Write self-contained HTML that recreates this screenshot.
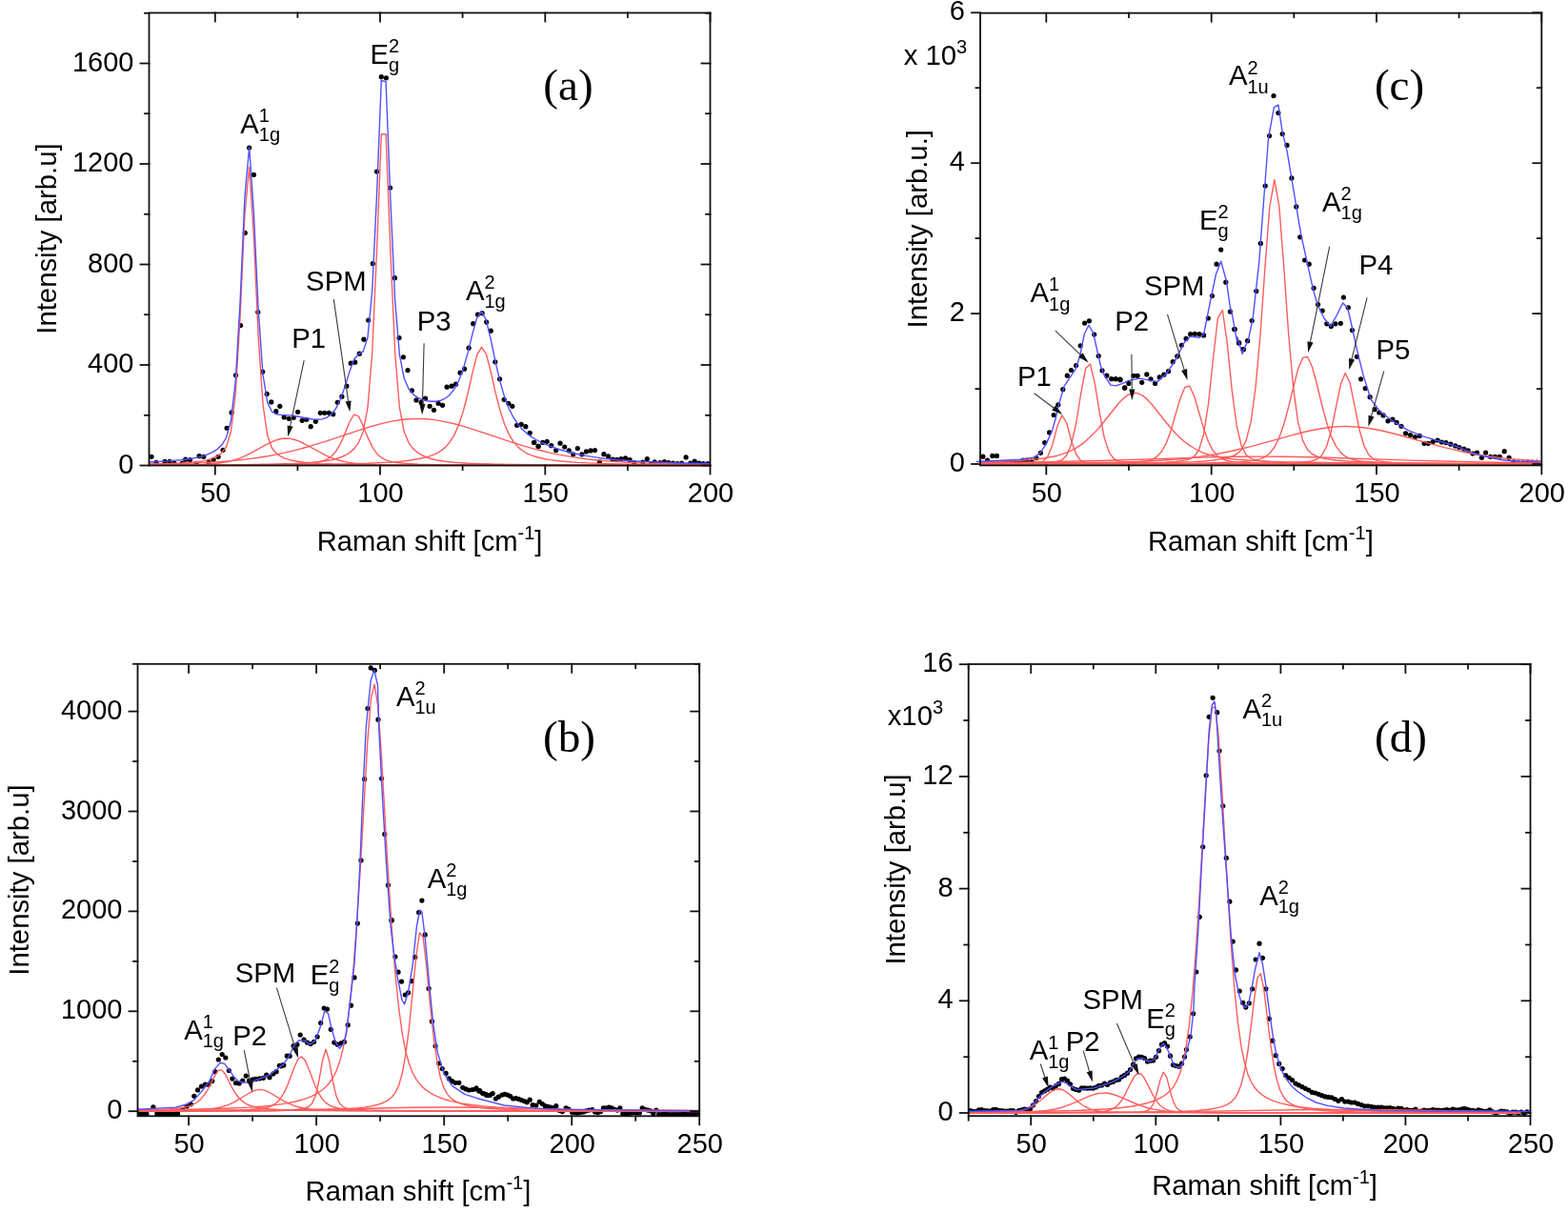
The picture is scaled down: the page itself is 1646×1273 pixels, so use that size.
<!DOCTYPE html>
<html><head><meta charset="utf-8"><title>Raman spectra</title>
<style>html,body{margin:0;padding:0;background:#fff;}svg{display:block;}</style>
</head><body>
<svg width="1646" height="1273" viewBox="0 0 1646 1273">
<rect width="100%" height="100%" fill="#fff"/>
<g fill="#000">
<circle cx="159.0" cy="479.3" r="2.6"/>
<circle cx="164.0" cy="485.3" r="2.6"/>
<circle cx="173.0" cy="484.3" r="2.6"/>
<circle cx="178.0" cy="484.3" r="2.6"/>
<circle cx="183.0" cy="486.3" r="2.6"/>
<circle cx="191.1" cy="486.3" r="2.6"/>
<circle cx="206.1" cy="486.3" r="2.6"/>
<circle cx="219.1" cy="485.3" r="2.6"/>
<circle cx="224.1" cy="482.3" r="2.6"/>
<circle cx="229.1" cy="479.3" r="2.6"/>
<circle cx="234.1" cy="472.3" r="2.6"/>
<circle cx="238.1" cy="449.3" r="2.6"/>
<circle cx="243.1" cy="432.9" r="2.6"/>
<circle cx="247.5" cy="393.8" r="2.6"/>
<circle cx="252.5" cy="341.5" r="2.6"/>
<circle cx="257.2" cy="244.4" r="2.6"/>
<circle cx="270.8" cy="327.5" r="2.6"/>
<circle cx="275.6" cy="390.2" r="2.6"/>
<circle cx="280.2" cy="413.4" r="2.6"/>
<circle cx="284.8" cy="421.9" r="2.6"/>
<circle cx="289.8" cy="431.7" r="2.6"/>
<circle cx="293.8" cy="426.3" r="2.6"/>
<circle cx="298.2" cy="437.9" r="2.6"/>
<circle cx="303.2" cy="439.3" r="2.6"/>
<circle cx="308.2" cy="438.3" r="2.6"/>
<circle cx="312.6" cy="432.3" r="2.6"/>
<circle cx="317.2" cy="441.3" r="2.6"/>
<circle cx="321.8" cy="440.3" r="2.6"/>
<circle cx="326.2" cy="447.7" r="2.6"/>
<circle cx="331.3" cy="442.3" r="2.6"/>
<circle cx="336.3" cy="433.3" r="2.6"/>
<circle cx="340.7" cy="433.3" r="2.6"/>
<circle cx="345.3" cy="433.3" r="2.6"/>
<circle cx="349.7" cy="434.7" r="2.6"/>
<circle cx="354.3" cy="422.3" r="2.6"/>
<circle cx="358.9" cy="416.2" r="2.6"/>
<circle cx="363.9" cy="405.2" r="2.6"/>
<circle cx="368.3" cy="381.2" r="2.6"/>
<circle cx="372.7" cy="380.2" r="2.6"/>
<circle cx="377.3" cy="371.2" r="2.6"/>
<circle cx="381.9" cy="356.2" r="2.6"/>
<circle cx="386.7" cy="336.1" r="2.6"/>
<circle cx="391.3" cy="276.7" r="2.6"/>
<circle cx="414.4" cy="291.7" r="2.6"/>
<circle cx="419.0" cy="354.6" r="2.6"/>
<circle cx="423.4" cy="374.8" r="2.6"/>
<circle cx="428.0" cy="388.6" r="2.6"/>
<circle cx="432.4" cy="409.8" r="2.6"/>
<circle cx="437.0" cy="419.9" r="2.6"/>
<circle cx="261.6" cy="155.1" r="2.6"/>
<circle cx="266.4" cy="183.4" r="2.6"/>
<circle cx="400.3" cy="80.7" r="2.6"/>
<circle cx="405.4" cy="81.8" r="2.6"/>
<circle cx="395.5" cy="180.1" r="2.6"/>
<circle cx="409.6" cy="197.0" r="2.6"/>
<circle cx="442.1" cy="422.3" r="2.6"/>
<circle cx="446.5" cy="418.2" r="2.6"/>
<circle cx="451.1" cy="426.3" r="2.6"/>
<circle cx="455.5" cy="430.3" r="2.6"/>
<circle cx="460.1" cy="423.3" r="2.6"/>
<circle cx="464.5" cy="425.3" r="2.6"/>
<circle cx="469.1" cy="406.2" r="2.6"/>
<circle cx="474.1" cy="405.2" r="2.6"/>
<circle cx="478.5" cy="403.2" r="2.6"/>
<circle cx="483.1" cy="391.2" r="2.6"/>
<circle cx="487.5" cy="387.2" r="2.6"/>
<circle cx="492.1" cy="365.2" r="2.6"/>
<circle cx="496.7" cy="339.7" r="2.6"/>
<circle cx="501.5" cy="330.1" r="2.6"/>
<circle cx="506.1" cy="328.7" r="2.6"/>
<circle cx="510.6" cy="338.1" r="2.6"/>
<circle cx="515.2" cy="347.2" r="2.6"/>
<circle cx="519.8" cy="379.8" r="2.6"/>
<circle cx="524.6" cy="397.8" r="2.6"/>
<circle cx="529.2" cy="419.3" r="2.6"/>
<circle cx="533.8" cy="423.3" r="2.6"/>
<circle cx="537.8" cy="426.3" r="2.6"/>
<circle cx="542.6" cy="446.3" r="2.6"/>
<circle cx="547.2" cy="445.3" r="2.6"/>
<circle cx="551.8" cy="447.7" r="2.6"/>
<circle cx="556.2" cy="454.3" r="2.6"/>
<circle cx="560.8" cy="464.3" r="2.6"/>
<circle cx="565.2" cy="468.3" r="2.6"/>
<circle cx="633.9" cy="476.7" r="2.6"/>
<circle cx="638.5" cy="478.9" r="2.6"/>
<circle cx="643.0" cy="482.0" r="2.6"/>
<circle cx="647.4" cy="482.3" r="2.6"/>
<circle cx="652.0" cy="481.7" r="2.6"/>
<circle cx="656.6" cy="480.9" r="2.6"/>
<circle cx="661.1" cy="482.7" r="2.6"/>
<circle cx="665.7" cy="485.5" r="2.6"/>
<circle cx="674.8" cy="485.1" r="2.6"/>
<circle cx="679.3" cy="481.7" r="2.6"/>
<circle cx="683.8" cy="486.5" r="2.6"/>
<circle cx="692.8" cy="485.5" r="2.6"/>
<circle cx="697.4" cy="484.5" r="2.6"/>
<circle cx="701.9" cy="485.5" r="2.6"/>
<circle cx="706.5" cy="486.2" r="2.6"/>
<circle cx="711.0" cy="486.5" r="2.6"/>
<circle cx="715.6" cy="486.2" r="2.6"/>
<circle cx="720.1" cy="479.9" r="2.6"/>
<circle cx="724.7" cy="486.2" r="2.6"/>
<circle cx="729.2" cy="484.1" r="2.6"/>
<circle cx="733.8" cy="486.2" r="2.6"/>
<circle cx="738.2" cy="486.5" r="2.6"/>
<circle cx="742.9" cy="486.5" r="2.6"/>
<circle cx="560.5" cy="464.5" r="2.6"/>
<circle cx="565.1" cy="468.3" r="2.6"/>
<circle cx="569.6" cy="464.3" r="2.6"/>
<circle cx="574.2" cy="463.3" r="2.6"/>
<circle cx="578.7" cy="467.7" r="2.6"/>
<circle cx="583.6" cy="472.6" r="2.6"/>
<circle cx="588.0" cy="465.2" r="2.6"/>
<circle cx="592.7" cy="469.0" r="2.6"/>
<circle cx="597.3" cy="472.9" r="2.6"/>
<circle cx="601.7" cy="476.8" r="2.6"/>
<circle cx="606.3" cy="470.5" r="2.6"/>
<circle cx="610.8" cy="476.8" r="2.6"/>
<circle cx="615.4" cy="473.9" r="2.6"/>
<circle cx="620.0" cy="472.9" r="2.6"/>
<circle cx="624.5" cy="472.5" r="2.6"/>
<circle cx="629.4" cy="484.5" r="2.6"/>
<circle cx="194.7" cy="482.2" r="2.6"/>
<circle cx="199.5" cy="482.7" r="2.6"/>
<circle cx="209.1" cy="478.7" r="2.6"/>
<circle cx="213.8" cy="479.3" r="2.6"/>
<circle cx="687.2" cy="484.8" r="2.6"/>
</g>
<g fill="none" stroke="#ff5c5c" stroke-width="1.4" stroke-linejoin="round">
<path d="M156.5,487.5 175.6,487.0 189.9,486.3 204.3,485.0 213.8,483.6 218.6,482.4 223.4,480.9 228.2,478.7 233.0,475.2 237.7,468.6 242.5,452.7 247.3,412.7 252.1,332.3 256.9,225.3 261.7,175.5 266.4,247.8 271.2,353.4 276.0,424.4 280.8,457.6 285.6,470.5 290.3,476.1 295.1,479.2 299.9,481.3 304.7,482.7 309.5,483.8 319.0,485.2 328.6,486.0 338.2,486.6 362.1,487.4 400.3,487.9 462.5,488.2 745.5,488.5"/>
<path d="M156.5,488.2 194.7,487.9 213.8,487.4 228.2,486.3 237.7,484.8 242.5,483.7 247.3,482.3 252.1,480.6 256.9,478.6 261.7,476.3 280.8,465.9 285.6,463.6 290.3,461.7 295.1,460.5 299.9,460.0 304.7,460.4 309.5,461.5 314.2,463.2 319.0,465.5 338.2,475.9 342.9,478.3 347.7,480.3 352.5,482.0 357.3,483.5 362.1,484.6 366.8,485.5 371.6,486.2 381.2,487.1 390.7,487.6 405.1,487.9 448.1,488.2 745.5,488.5"/>
<path d="M156.5,488.4 247.3,488.1 295.1,487.5 309.5,487.0 323.8,486.1 333.4,484.9 338.2,483.9 342.9,482.1 347.7,479.0 352.5,473.9 357.3,465.9 362.1,455.0 366.8,443.0 371.6,435.1 376.4,436.8 381.2,446.9 386.0,458.9 390.7,468.9 395.5,475.9 400.3,480.2 405.1,482.8 409.9,484.3 414.7,485.2 424.2,486.3 438.6,487.1 457.7,487.6 481.6,488.0 562.9,488.3 745.5,488.5"/>
<path d="M156.5,488.2 233.0,487.9 280.8,487.3 309.5,486.4 323.8,485.6 333.4,484.8 342.9,483.5 347.7,482.7 352.5,481.5 357.3,480.0 362.1,478.0 366.8,475.2 371.6,471.1 376.4,464.6 381.2,453.0 386.0,427.7 390.7,370.6 395.5,264.3 400.3,140.7 405.1,140.7 409.9,264.3 414.7,370.6 419.4,427.7 424.2,453.0 429.0,464.6 433.8,471.1 438.6,475.2 443.3,478.0 448.1,480.0 452.9,481.5 457.7,482.7 467.2,484.2 476.8,485.2 491.2,486.2 519.8,487.2 562.9,487.8 629.8,488.1 745.5,488.3"/>
<path d="M156.5,487.0 194.7,486.2 213.8,485.5 228.2,484.7 242.5,483.6 256.9,482.1 271.2,480.3 280.8,478.7 290.3,476.9 299.9,474.9 309.5,472.6 323.8,468.7 342.9,462.8 381.2,450.1 390.7,447.2 400.3,444.6 409.9,442.4 419.4,440.8 429.0,439.8 438.6,439.4 448.1,439.8 457.7,440.9 467.2,442.6 476.8,444.8 486.4,447.4 495.9,450.3 534.2,463.1 548.5,467.6 558.1,470.3 567.7,472.8 577.2,475.1 586.8,477.1 601.1,479.6 615.5,481.7 629.8,483.2 644.2,484.4 658.5,485.3 677.6,486.1 696.8,486.6 745.5,487.3"/>
<path d="M156.5,488.2 309.5,487.7 352.5,487.1 386.0,486.3 409.9,485.1 419.4,484.4 429.0,483.3 438.6,481.8 443.3,480.8 448.1,479.6 452.9,478.1 457.7,476.1 462.5,473.4 467.2,469.6 472.0,464.2 476.8,456.6 481.6,445.8 486.4,431.2 491.2,412.7 495.9,391.6 500.7,372.7 505.5,364.3 510.3,371.3 515.1,389.5 519.8,410.6 524.6,429.5 529.4,444.5 534.2,455.6 539.0,463.6 543.8,469.1 548.5,473.0 553.3,475.8 558.1,477.9 562.9,479.5 572.4,481.7 577.2,482.6 586.8,483.8 605.9,485.4 629.8,486.4 658.5,487.1 696.8,487.6 745.5,487.9"/>
</g>
<path fill="none" stroke="#5050ff" stroke-width="1.4" stroke-linejoin="round" d="M156.5,485.0 175.6,483.9 189.9,482.7 199.5,481.5 204.3,480.6 209.1,479.6 213.8,478.3 218.6,476.6 223.4,474.4 228.2,471.3 233.0,466.8 237.7,459.0 242.5,441.4 247.3,399.5 252.1,316.9 256.9,207.2 261.7,154.5 266.4,223.5 271.2,325.6 276.0,393.0 280.8,422.6 285.6,432.2 290.3,434.8 295.1,435.4 304.7,435.9 309.5,436.5 323.8,439.2 328.6,440.0 333.4,440.3 338.2,439.9 342.9,438.3 347.7,435.0 352.5,428.9 357.3,419.3 362.1,405.9 366.8,390.4 371.6,377.3 376.4,371.6 381.2,368.8 386.0,354.1 390.7,305.7 395.5,205.0 400.3,84.4 405.1,85.7 409.9,209.6 414.7,315.6 419.4,372.2 424.2,397.0 429.0,408.0 433.8,413.9 438.6,417.4 443.3,419.5 448.1,420.8 452.9,421.3 457.7,421.2 462.5,420.3 467.2,418.2 472.0,414.5 476.8,408.6 481.6,399.5 486.4,386.7 491.2,369.9 495.9,350.6 500.7,333.5 505.5,326.9 510.3,335.6 515.1,355.6 519.8,378.5 524.6,399.2 529.4,415.9 534.2,428.7 539.0,438.2 543.8,445.4 548.5,450.8 553.3,455.1 558.1,458.6 562.9,461.5 567.7,464.0 572.4,466.2 577.2,468.2 586.8,471.5 596.3,474.3 605.9,476.5 615.5,478.4 625.0,479.9 634.6,481.2 648.9,482.7 672.8,484.3 706.3,485.7 745.5,486.5"/>
<g stroke="#111" stroke-width="1.8" fill="none" stroke-linecap="square">
<rect x="156.5" y="13.5" width="589.0" height="475.0"/>
<line x1="225.8" y1="488.5" x2="225.8" y2="497.5"/>
<line x1="225.8" y1="13.5" x2="225.8" y2="22.5"/>
<line x1="399.0" y1="488.5" x2="399.0" y2="497.5"/>
<line x1="399.0" y1="13.5" x2="399.0" y2="22.5"/>
<line x1="572.3" y1="488.5" x2="572.3" y2="497.5"/>
<line x1="572.3" y1="13.5" x2="572.3" y2="22.5"/>
<line x1="745.5" y1="488.5" x2="745.5" y2="497.5"/>
<line x1="745.5" y1="13.5" x2="745.5" y2="22.5"/>
<line x1="312.4" y1="488.5" x2="312.4" y2="493.0"/>
<line x1="312.4" y1="13.5" x2="312.4" y2="18.0"/>
<line x1="485.6" y1="488.5" x2="485.6" y2="493.0"/>
<line x1="485.6" y1="13.5" x2="485.6" y2="18.0"/>
<line x1="658.9" y1="488.5" x2="658.9" y2="493.0"/>
<line x1="658.9" y1="13.5" x2="658.9" y2="18.0"/>
<line x1="147.5" y1="488.5" x2="156.5" y2="488.5"/>
<line x1="736.5" y1="488.5" x2="745.5" y2="488.5"/>
<line x1="147.5" y1="383.0" x2="156.5" y2="383.0"/>
<line x1="736.5" y1="383.0" x2="745.5" y2="383.0"/>
<line x1="147.5" y1="277.5" x2="156.5" y2="277.5"/>
<line x1="736.5" y1="277.5" x2="745.5" y2="277.5"/>
<line x1="147.5" y1="172.0" x2="156.5" y2="172.0"/>
<line x1="736.5" y1="172.0" x2="745.5" y2="172.0"/>
<line x1="147.5" y1="66.5" x2="156.5" y2="66.5"/>
<line x1="736.5" y1="66.5" x2="745.5" y2="66.5"/>
<line x1="152.0" y1="435.8" x2="156.5" y2="435.8"/>
<line x1="741.0" y1="435.8" x2="745.5" y2="435.8"/>
<line x1="152.0" y1="330.2" x2="156.5" y2="330.2"/>
<line x1="741.0" y1="330.2" x2="745.5" y2="330.2"/>
<line x1="152.0" y1="224.8" x2="156.5" y2="224.8"/>
<line x1="741.0" y1="224.8" x2="745.5" y2="224.8"/>
<line x1="152.0" y1="119.2" x2="156.5" y2="119.2"/>
<line x1="741.0" y1="119.2" x2="745.5" y2="119.2"/>
<line x1="152.0" y1="13.8" x2="156.5" y2="13.8"/>
<line x1="741.0" y1="13.8" x2="745.5" y2="13.8"/>
</g>
<g font-family='"Liberation Sans", Arial, sans-serif' font-size="29" fill="#000">
<text x="140.4" y="496.5" text-anchor="end">0</text>
<text x="140.4" y="391.0" text-anchor="end">400</text>
<text x="140.4" y="285.5" text-anchor="end">800</text>
<text x="140.4" y="180.0" text-anchor="end">1200</text>
<text x="140.4" y="74.5" text-anchor="end">1600</text>
<text x="226.3" y="526.9" text-anchor="middle">50</text>
<text x="399.5" y="526.9" text-anchor="middle">100</text>
<text x="572.8" y="526.9" text-anchor="middle">150</text>
<text x="746.0" y="526.9" text-anchor="middle">200</text>
</g>
<text transform="translate(58.7,350.7) rotate(-90)" font-family='"Liberation Sans", Arial, sans-serif' font-size="29.3">Intensity [arb.u]</text>
<text x="332.7" y="577.5" font-family='"Liberation Sans", Arial, sans-serif' font-size="29.2">Raman shift [cm<tspan dy="-12" font-size="20">-1</tspan><tspan dy="12">]</tspan></text>
<text x="252.3" y="139.6" font-family='"Liberation Sans", Arial, sans-serif' font-size="29.3">A</text>
<text x="271.8" y="127.8" font-family='"Liberation Sans", Arial, sans-serif' font-size="20">1</text>
<text x="271.8" y="147.9" font-family='"Liberation Sans", Arial, sans-serif' font-size="20">1g</text>
<text x="388.4" y="66.8" font-family='"Liberation Sans", Arial, sans-serif' font-size="29.3">E</text>
<text x="407.9" y="55.0" font-family='"Liberation Sans", Arial, sans-serif' font-size="20">2</text>
<text x="407.9" y="75.1" font-family='"Liberation Sans", Arial, sans-serif' font-size="20">g</text>
<text x="321.1" y="305.2" font-family='"Liberation Sans", Arial, sans-serif' font-size="29.3" text-anchor="start">SPM</text>
<text x="306.2" y="365.3" font-family='"Liberation Sans", Arial, sans-serif' font-size="29.3" text-anchor="start">P1</text>
<text x="437.8" y="347.4" font-family='"Liberation Sans", Arial, sans-serif' font-size="29.3" text-anchor="start">P3</text>
<text x="489.0" y="314.8" font-family='"Liberation Sans", Arial, sans-serif' font-size="29.3">A</text>
<text x="508.5" y="303.0" font-family='"Liberation Sans", Arial, sans-serif' font-size="20">2</text>
<text x="508.5" y="323.1" font-family='"Liberation Sans", Arial, sans-serif' font-size="20">1g</text>
<text x="570.3" y="105.4" font-family='"Liberation Serif", "Times New Roman", serif' font-size="47.1" text-anchor="start">(a)</text>
<line x1="319.2" y1="378.2" x2="304.2" y2="449.0" stroke="#3a3a3a" stroke-width="1.1"/>
<path d="M302.2,458.3 L301.6,446.4 L307.6,447.7 Z" fill="#111"/>
<line x1="350.3" y1="314.1" x2="365.9" y2="422.9" stroke="#3a3a3a" stroke-width="1.1"/>
<path d="M367.3,432.3 L362.6,421.4 L368.7,420.5 Z" fill="#111"/>
<line x1="445.1" y1="360.2" x2="443.4" y2="425.8" stroke="#3a3a3a" stroke-width="1.1"/>
<path d="M443.1,435.3 L440.3,423.7 L446.5,423.9 Z" fill="#111"/>
<g fill="#000">
<circle cx="1031.9" cy="479.2" r="2.6"/>
<circle cx="1036.5" cy="483.0" r="2.6"/>
<circle cx="1041.8" cy="478.4" r="2.6"/>
<circle cx="1046.4" cy="478.4" r="2.6"/>
<circle cx="1051.8" cy="486.1" r="2.6"/>
<circle cx="1056.4" cy="486.1" r="2.6"/>
<circle cx="1061.0" cy="486.1" r="2.6"/>
<circle cx="1065.6" cy="486.1" r="2.6"/>
<circle cx="1070.2" cy="485.3" r="2.6"/>
<circle cx="1074.0" cy="483.0" r="2.6"/>
<circle cx="1077.8" cy="483.0" r="2.6"/>
<circle cx="1082.9" cy="483.8" r="2.6"/>
<circle cx="1087.8" cy="480.7" r="2.6"/>
<circle cx="1092.4" cy="475.3" r="2.6"/>
<circle cx="1096.7" cy="464.6" r="2.6"/>
<circle cx="1101.6" cy="453.9" r="2.6"/>
<circle cx="1106.2" cy="435.5" r="2.6"/>
<circle cx="1110.8" cy="424.8" r="2.6"/>
<circle cx="1115.8" cy="408.7" r="2.6"/>
<circle cx="1120.3" cy="394.2" r="2.6"/>
<circle cx="1124.5" cy="388.5" r="2.6"/>
<circle cx="1129.6" cy="383.5" r="2.6"/>
<circle cx="1134.2" cy="362.8" r="2.6"/>
<circle cx="1138.6" cy="339.1" r="2.6"/>
<circle cx="1143.4" cy="336.8" r="2.6"/>
<circle cx="1148.7" cy="351.0" r="2.6"/>
<circle cx="1153.2" cy="373.5" r="2.6"/>
<circle cx="1157.0" cy="388.8" r="2.6"/>
<circle cx="1161.8" cy="394.2" r="2.6"/>
<circle cx="1166.7" cy="397.7" r="2.6"/>
<circle cx="1171.2" cy="397.7" r="2.6"/>
<circle cx="1175.8" cy="398.0" r="2.6"/>
<circle cx="1180.7" cy="406.9" r="2.6"/>
<circle cx="1176.0" cy="398.7" r="2.6"/>
<circle cx="1180.6" cy="407.1" r="2.6"/>
<circle cx="1184.8" cy="402.4" r="2.6"/>
<circle cx="1189.9" cy="394.3" r="2.6"/>
<circle cx="1194.1" cy="394.3" r="2.6"/>
<circle cx="1198.7" cy="401.3" r="2.6"/>
<circle cx="1203.8" cy="392.9" r="2.6"/>
<circle cx="1208.0" cy="397.8" r="2.6"/>
<circle cx="1212.6" cy="402.4" r="2.6"/>
<circle cx="1217.2" cy="395.9" r="2.6"/>
<circle cx="1221.9" cy="393.2" r="2.6"/>
<circle cx="1226.5" cy="389.7" r="2.6"/>
<circle cx="1231.2" cy="379.7" r="2.6"/>
<circle cx="1235.8" cy="373.9" r="2.6"/>
<circle cx="1240.4" cy="362.3" r="2.6"/>
<circle cx="1245.1" cy="355.4" r="2.6"/>
<circle cx="1249.7" cy="350.7" r="2.6"/>
<circle cx="1254.3" cy="350.3" r="2.6"/>
<circle cx="1259.0" cy="350.7" r="2.6"/>
<circle cx="1263.6" cy="351.9" r="2.6"/>
<circle cx="1268.3" cy="334.0" r="2.6"/>
<circle cx="1272.4" cy="310.6" r="2.6"/>
<circle cx="1277.1" cy="277.2" r="2.6"/>
<circle cx="1281.7" cy="262.1" r="2.6"/>
<circle cx="1286.8" cy="296.2" r="2.6"/>
<circle cx="1291.4" cy="327.1" r="2.6"/>
<circle cx="1295.6" cy="345.6" r="2.6"/>
<circle cx="1300.7" cy="360.0" r="2.6"/>
<circle cx="1304.9" cy="366.5" r="2.6"/>
<circle cx="1296.3" cy="345.6" r="2.6"/>
<circle cx="1300.5" cy="359.7" r="2.6"/>
<circle cx="1305.4" cy="366.8" r="2.6"/>
<circle cx="1309.6" cy="357.7" r="2.6"/>
<circle cx="1314.2" cy="336.5" r="2.6"/>
<circle cx="1318.8" cy="305.6" r="2.6"/>
<circle cx="1323.3" cy="255.4" r="2.6"/>
<circle cx="1328.2" cy="195.1" r="2.6"/>
<circle cx="1332.5" cy="142.6" r="2.6"/>
<circle cx="1337.0" cy="100.5" r="2.6"/>
<circle cx="1341.9" cy="118.5" r="2.6"/>
<circle cx="1346.2" cy="140.6" r="2.6"/>
<circle cx="1351.0" cy="152.4" r="2.6"/>
<circle cx="1355.9" cy="186.9" r="2.6"/>
<circle cx="1360.8" cy="216.9" r="2.6"/>
<circle cx="1364.7" cy="248.8" r="2.6"/>
<circle cx="1369.6" cy="273.0" r="2.6"/>
<circle cx="1374.2" cy="277.2" r="2.6"/>
<circle cx="1379.1" cy="302.3" r="2.6"/>
<circle cx="1383.6" cy="319.6" r="2.6"/>
<circle cx="1388.2" cy="326.1" r="2.6"/>
<circle cx="1392.8" cy="339.8" r="2.6"/>
<circle cx="1397.3" cy="342.4" r="2.6"/>
<circle cx="1401.9" cy="339.8" r="2.6"/>
<circle cx="1410.4" cy="312.1" r="2.6"/>
<circle cx="1415.3" cy="322.8" r="2.6"/>
<circle cx="1419.5" cy="346.6" r="2.6"/>
<circle cx="1424.4" cy="374.3" r="2.6"/>
<circle cx="1428.6" cy="397.8" r="2.6"/>
<circle cx="1433.2" cy="407.6" r="2.6"/>
<circle cx="1438.1" cy="416.7" r="2.6"/>
<circle cx="1443.0" cy="429.7" r="2.6"/>
<circle cx="1447.8" cy="433.0" r="2.6"/>
<circle cx="1452.1" cy="435.9" r="2.6"/>
<circle cx="1457.0" cy="441.8" r="2.6"/>
<circle cx="1461.9" cy="440.2" r="2.6"/>
<circle cx="1466.1" cy="443.4" r="2.6"/>
<circle cx="1471.0" cy="447.3" r="2.6"/>
<circle cx="1475.6" cy="454.8" r="2.6"/>
<circle cx="1480.4" cy="456.5" r="2.6"/>
<circle cx="1485.3" cy="458.7" r="2.6"/>
<circle cx="1490.2" cy="457.4" r="2.6"/>
<circle cx="1495.1" cy="465.3" r="2.6"/>
<circle cx="1499.3" cy="465.3" r="2.6"/>
<circle cx="1504.2" cy="463.6" r="2.6"/>
<circle cx="1509.1" cy="462.0" r="2.6"/>
<circle cx="1513.4" cy="464.0" r="2.6"/>
<circle cx="1517.9" cy="464.6" r="2.6"/>
<circle cx="1522.8" cy="466.2" r="2.6"/>
<circle cx="1527.7" cy="467.9" r="2.6"/>
<circle cx="1531.9" cy="469.5" r="2.6"/>
<circle cx="1536.8" cy="471.1" r="2.6"/>
<circle cx="1541.1" cy="472.8" r="2.6"/>
<circle cx="1546.0" cy="476.0" r="2.6"/>
<circle cx="1550.5" cy="475.0" r="2.6"/>
<circle cx="1555.4" cy="480.3" r="2.6"/>
<circle cx="1559.6" cy="475.0" r="2.6"/>
<circle cx="1564.5" cy="479.3" r="2.6"/>
<circle cx="1569.4" cy="479.3" r="2.6"/>
<circle cx="1574.3" cy="479.3" r="2.6"/>
<circle cx="1579.2" cy="473.7" r="2.6"/>
<circle cx="1584.1" cy="480.3" r="2.6"/>
<circle cx="1589.0" cy="484.8" r="2.6"/>
<circle cx="1593.9" cy="485.8" r="2.6"/>
<circle cx="1598.8" cy="485.8" r="2.6"/>
<circle cx="1603.7" cy="485.1" r="2.6"/>
<circle cx="1608.5" cy="485.1" r="2.6"/>
<circle cx="1613.4" cy="485.1" r="2.6"/>
<circle cx="1407.3" cy="339.3" r="2.6"/>
</g>
<g fill="none" stroke="#ff5c5c" stroke-width="1.4" stroke-linejoin="round">
<path d="M1029.0,486.9 1060.3,486.7 1080.1,486.4 1085.1,486.1 1090.0,485.7 1095.0,484.1 1099.9,478.9 1104.9,466.4 1109.8,447.7 1114.8,435.8 1119.8,444.0 1124.7,462.7 1129.7,477.0 1134.6,483.5 1139.6,485.5 1144.5,486.1 1164.4,486.7 1209.0,486.9 1618.3,487.0"/>
<path d="M1029.0,486.8 1070.2,486.5 1095.0,485.8 1104.9,485.2 1109.8,484.5 1114.8,482.7 1119.8,477.8 1124.7,466.1 1129.7,444.0 1134.6,413.5 1139.6,386.8 1144.5,382.1 1149.5,403.4 1154.5,434.6 1159.4,460.1 1164.4,474.9 1169.3,481.5 1174.3,484.0 1179.2,485.0 1184.2,485.5 1194.1,486.0 1213.9,486.5 1238.7,486.7 1337.9,486.9 1618.3,487.0"/>
<path d="M1029.0,484.8 1050.4,484.2 1070.2,483.3 1085.1,482.1 1095.0,481.0 1104.9,479.3 1109.8,478.2 1114.8,476.7 1119.8,474.9 1124.7,472.7 1129.7,470.1 1134.6,466.9 1139.6,463.1 1144.5,458.6 1149.5,453.6 1154.5,448.0 1174.3,423.3 1179.2,418.2 1184.2,414.4 1189.2,412.4 1194.1,412.6 1199.1,414.9 1204.0,418.9 1209.0,424.2 1223.9,443.0 1228.8,449.0 1233.8,454.5 1238.7,459.4 1243.7,463.7 1248.6,467.4 1253.6,470.5 1258.5,473.1 1263.5,475.3 1268.5,477.0 1273.4,478.4 1283.3,480.4 1288.3,481.1 1298.2,482.2 1318.0,483.6 1342.8,484.6 1372.6,485.3 1412.2,485.8 1461.8,486.2 1618.3,486.7"/>
<path d="M1029.0,486.9 1119.8,486.6 1169.3,486.0 1184.2,485.5 1194.1,485.0 1199.1,484.5 1204.0,483.7 1209.0,482.4 1213.9,479.7 1218.9,474.6 1223.9,466.0 1228.8,452.9 1238.7,418.9 1243.7,406.5 1248.6,405.1 1253.6,415.5 1263.5,449.6 1268.5,463.5 1273.4,473.1 1278.4,478.8 1283.3,481.9 1288.3,483.5 1293.2,484.4 1298.2,484.9 1308.1,485.5 1323.0,486.0 1347.8,486.4 1427.1,486.8 1618.3,487.0"/>
<path d="M1029.0,486.9 1159.4,486.6 1194.1,486.2 1213.9,485.7 1223.9,485.3 1233.8,484.5 1243.7,483.1 1248.6,481.8 1253.6,479.0 1258.5,472.2 1263.5,455.9 1268.5,423.9 1273.4,377.3 1278.4,333.8 1283.3,325.5 1288.3,360.5 1293.2,409.1 1298.2,446.9 1303.2,468.0 1308.1,477.4 1313.1,481.1 1318.0,482.7 1323.0,483.7 1332.9,484.8 1347.8,485.6 1367.6,486.2 1397.3,486.6 1442.0,486.8 1618.3,486.9"/>
<path d="M1029.0,486.8 1124.7,486.6 1184.2,486.3 1223.9,485.7 1253.6,484.6 1263.5,484.0 1273.4,483.0 1283.3,481.6 1288.3,480.5 1293.2,479.0 1298.2,476.5 1303.2,472.0 1308.1,462.4 1313.1,442.9 1318.0,407.0 1323.0,351.2 1327.9,281.2 1332.9,216.4 1337.9,188.6 1342.8,216.4 1347.8,281.2 1352.7,351.2 1357.7,407.0 1362.6,442.9 1367.6,462.4 1372.6,472.0 1377.5,476.5 1382.5,479.0 1387.4,480.5 1392.4,481.6 1402.3,483.0 1417.2,484.3 1442.0,485.4 1476.7,486.1 1531.2,486.5 1618.3,486.8"/>
<path d="M1029.0,486.9 1189.2,486.6 1233.8,486.4 1263.5,486.0 1288.3,485.3 1303.2,484.6 1313.1,483.7 1318.0,482.9 1323.0,481.6 1327.9,479.5 1332.9,475.7 1337.9,469.3 1342.8,459.3 1347.8,445.1 1352.7,426.9 1357.7,406.5 1362.6,387.6 1367.6,375.4 1372.6,374.5 1377.5,385.3 1382.5,403.5 1387.4,424.0 1392.4,442.6 1397.3,457.5 1402.3,468.1 1407.3,474.9 1412.2,479.0 1417.2,481.4 1422.1,482.7 1427.1,483.6 1432.0,484.1 1446.9,485.1 1461.8,485.6 1486.6,486.2 1516.3,486.5 1618.3,486.8"/>
<path d="M1029.0,487.0 1233.8,486.9 1318.0,486.5 1342.8,486.2 1357.7,485.7 1367.6,485.0 1372.6,484.5 1377.5,483.7 1382.5,482.0 1387.4,478.0 1392.4,469.1 1397.3,452.7 1407.3,403.6 1412.2,391.5 1417.2,402.2 1427.1,451.2 1432.0,468.2 1437.0,477.5 1442.0,481.8 1446.9,483.6 1451.9,484.5 1461.8,485.4 1476.7,486.0 1521.3,486.6 1618.3,486.9"/>
<path d="M1029.0,486.3 1119.8,485.8 1174.3,485.1 1194.1,484.5 1213.9,483.5 1228.8,482.5 1243.7,481.2 1258.5,479.4 1268.5,478.0 1278.4,476.3 1293.2,473.3 1313.1,468.6 1357.7,456.3 1367.6,453.8 1377.5,451.5 1387.4,449.7 1397.3,448.3 1407.3,447.6 1412.2,447.5 1417.2,447.6 1427.1,448.2 1437.0,449.5 1446.9,451.3 1456.8,453.5 1466.7,456.0 1501.4,465.7 1516.3,469.6 1536.1,474.2 1551.0,477.0 1565.9,479.3 1580.8,481.1 1600.6,482.8 1618.3,483.9"/>
<path d="M1029.0,485.8 1075.1,485.2 1119.8,484.3 1164.4,483.2 1268.5,479.9 1298.2,479.3 1323.0,479.1 1347.8,479.3 1377.5,479.8 1481.6,483.1 1531.2,484.4 1570.8,485.2 1618.3,485.8"/>
</g>
<path fill="none" stroke="#5050ff" stroke-width="1.4" stroke-linejoin="round" d="M1025.0,484.5 1070.9,482.2 1086.3,479.9 1092.4,474.6 1098.5,465.4 1104.6,451.6 1108.5,437.8 1110.8,427.1 1116.9,405.7 1129.1,387.3 1133.7,373.5 1138.3,350.5 1142.9,341.3 1147.5,349.0 1155.9,385.8 1159.8,394.9 1165.9,404.1 1172.0,404.9 1173.2,404.1 1178.1,402.6 1184.8,399.4 1196.4,397.1 1208.0,399.4 1214.9,400.6 1224.2,392.5 1233.5,378.6 1242.8,360.0 1249.7,353.0 1259.0,354.2 1263.6,350.7 1270.6,315.9 1276.4,288.1 1281.7,274.2 1287.5,295.1 1291.4,322.9 1292.4,324.5 1298.4,357.7 1298.9,353.8 1304.2,371.6 1304.8,368.5 1310.3,357.1 1315.2,334.2 1321.7,275.6 1331.5,145.2 1337.4,112.6 1341.9,110.0 1346.2,138.7 1351.0,158.2 1365.7,246.2 1378.7,304.9 1383.6,321.2 1390.2,334.2 1396.7,342.4 1403.2,331.0 1409.7,317.9 1414.6,322.8 1419.5,344.0 1424.4,366.8 1430.9,392.9 1439.0,419.0 1448.8,432.0 1461.9,441.8 1478.2,451.6 1494.5,458.1 1527.1,467.9 1543.4,474.4 1559.6,479.3 1575.9,482.5 1592.2,484.2 1616.7,484.8"/>
<g stroke="#111" stroke-width="1.8" fill="none" stroke-linecap="square">
<rect x="1029.0" y="13.7" width="589.3" height="474.7"/>
<line x1="1098.3" y1="488.4" x2="1098.3" y2="497.4"/>
<line x1="1098.3" y1="13.7" x2="1098.3" y2="22.7"/>
<line x1="1271.7" y1="488.4" x2="1271.7" y2="497.4"/>
<line x1="1271.7" y1="13.7" x2="1271.7" y2="22.7"/>
<line x1="1445.0" y1="488.4" x2="1445.0" y2="497.4"/>
<line x1="1445.0" y1="13.7" x2="1445.0" y2="22.7"/>
<line x1="1618.3" y1="488.4" x2="1618.3" y2="497.4"/>
<line x1="1618.3" y1="13.7" x2="1618.3" y2="22.7"/>
<line x1="1185.0" y1="488.4" x2="1185.0" y2="492.9"/>
<line x1="1185.0" y1="13.7" x2="1185.0" y2="18.2"/>
<line x1="1358.3" y1="488.4" x2="1358.3" y2="492.9"/>
<line x1="1358.3" y1="13.7" x2="1358.3" y2="18.2"/>
<line x1="1531.6" y1="488.4" x2="1531.6" y2="492.9"/>
<line x1="1531.6" y1="13.7" x2="1531.6" y2="18.2"/>
<line x1="1020.0" y1="487.0" x2="1029.0" y2="487.0"/>
<line x1="1609.3" y1="487.0" x2="1618.3" y2="487.0"/>
<line x1="1020.0" y1="329.1" x2="1029.0" y2="329.1"/>
<line x1="1609.3" y1="329.1" x2="1618.3" y2="329.1"/>
<line x1="1020.0" y1="171.2" x2="1029.0" y2="171.2"/>
<line x1="1609.3" y1="171.2" x2="1618.3" y2="171.2"/>
<line x1="1020.0" y1="13.3" x2="1029.0" y2="13.3"/>
<line x1="1609.3" y1="13.3" x2="1618.3" y2="13.3"/>
<line x1="1024.5" y1="408.1" x2="1029.0" y2="408.1"/>
<line x1="1613.8" y1="408.1" x2="1618.3" y2="408.1"/>
<line x1="1024.5" y1="250.1" x2="1029.0" y2="250.1"/>
<line x1="1613.8" y1="250.1" x2="1618.3" y2="250.1"/>
<line x1="1024.5" y1="92.2" x2="1029.0" y2="92.2"/>
<line x1="1613.8" y1="92.2" x2="1618.3" y2="92.2"/>
</g>
<g font-family='"Liberation Sans", Arial, sans-serif' font-size="29" fill="#000">
<text x="1012.9" y="495.0" text-anchor="end">0</text>
<text x="1012.9" y="337.1" text-anchor="end">2</text>
<text x="1012.9" y="179.2" text-anchor="end">4</text>
<text x="1012.9" y="21.3" text-anchor="end">6</text>
<text x="1098.8" y="526.8" text-anchor="middle">50</text>
<text x="1272.2" y="526.8" text-anchor="middle">100</text>
<text x="1445.5" y="526.8" text-anchor="middle">150</text>
<text x="1618.8" y="526.8" text-anchor="middle">200</text>
</g>
<text transform="translate(973.4,344.5) rotate(-90)" font-family='"Liberation Sans", Arial, sans-serif' font-size="29.3">Intensity [arb.u.]</text>
<text x="948.7" y="68.0" font-family='"Liberation Sans", Arial, sans-serif' font-size="29.3" text-anchor="start">x 10<tspan dy="-12.1" font-size="20">3</tspan></text>
<text x="1205.0" y="577.7" font-family='"Liberation Sans", Arial, sans-serif' font-size="29.2">Raman shift [cm<tspan dy="-12" font-size="20">-1</tspan><tspan dy="12">]</tspan></text>
<text x="1290.0" y="89.4" font-family='"Liberation Sans", Arial, sans-serif' font-size="29.3">A</text>
<text x="1309.5" y="77.6" font-family='"Liberation Sans", Arial, sans-serif' font-size="20">2</text>
<text x="1309.5" y="97.7" font-family='"Liberation Sans", Arial, sans-serif' font-size="20">1u</text>
<text x="1442.9" y="105.4" font-family='"Liberation Serif", "Times New Roman", serif' font-size="47.1" text-anchor="start">(c)</text>
<text x="1258.9" y="240.6" font-family='"Liberation Sans", Arial, sans-serif' font-size="29.3">E</text>
<text x="1278.4" y="228.8" font-family='"Liberation Sans", Arial, sans-serif' font-size="20">2</text>
<text x="1278.4" y="248.9" font-family='"Liberation Sans", Arial, sans-serif' font-size="20">g</text>
<text x="1388.1" y="221.5" font-family='"Liberation Sans", Arial, sans-serif' font-size="29.3">A</text>
<text x="1407.6" y="209.7" font-family='"Liberation Sans", Arial, sans-serif' font-size="20">2</text>
<text x="1407.6" y="229.8" font-family='"Liberation Sans", Arial, sans-serif' font-size="20">1g</text>
<text x="1081.6" y="317.2" font-family='"Liberation Sans", Arial, sans-serif' font-size="29.3">A</text>
<text x="1101.1" y="305.4" font-family='"Liberation Sans", Arial, sans-serif' font-size="20">1</text>
<text x="1101.1" y="325.5" font-family='"Liberation Sans", Arial, sans-serif' font-size="20">1g</text>
<text x="1426.4" y="288.1" font-family='"Liberation Sans", Arial, sans-serif' font-size="29.3" text-anchor="start">P4</text>
<text x="1444.4" y="377.0" font-family='"Liberation Sans", Arial, sans-serif' font-size="29.3" text-anchor="start">P5</text>
<text x="1200.9" y="309.5" font-family='"Liberation Sans", Arial, sans-serif' font-size="29.3" text-anchor="start">SPM</text>
<text x="1170.3" y="347.1" font-family='"Liberation Sans", Arial, sans-serif' font-size="29.3" text-anchor="start">P2</text>
<text x="1068.0" y="404.8" font-family='"Liberation Sans", Arial, sans-serif' font-size="29.3" text-anchor="start">P1</text>
<line x1="1085.6" y1="412.7" x2="1107.7" y2="429.3" stroke="#3a3a3a" stroke-width="1.1"/>
<path d="M1115.3,435.0 L1104.2,430.6 L1108.0,425.6 Z" fill="#111"/>
<line x1="1107.9" y1="347.1" x2="1135.8" y2="373.9" stroke="#3a3a3a" stroke-width="1.1"/>
<path d="M1142.6,380.5 L1132.2,374.8 L1136.5,370.3 Z" fill="#111"/>
<line x1="1187.9" y1="371.8" x2="1188.3" y2="410.6" stroke="#3a3a3a" stroke-width="1.1"/>
<path d="M1188.4,420.1 L1185.2,408.6 L1191.4,408.6 Z" fill="#111"/>
<line x1="1225.5" y1="329.8" x2="1243.7" y2="389.9" stroke="#3a3a3a" stroke-width="1.1"/>
<path d="M1246.5,399.0 L1240.2,388.9 L1246.1,387.1 Z" fill="#111"/>
<line x1="1395.7" y1="258.6" x2="1375.1" y2="360.8" stroke="#3a3a3a" stroke-width="1.1"/>
<path d="M1373.2,370.1 L1372.4,358.2 L1378.5,359.4 Z" fill="#111"/>
<line x1="1435.1" y1="312.4" x2="1418.5" y2="378.8" stroke="#3a3a3a" stroke-width="1.1"/>
<path d="M1416.2,388.0 L1416.0,376.1 L1422.0,377.6 Z" fill="#111"/>
<line x1="1452.7" y1="389.6" x2="1439.0" y2="438.6" stroke="#3a3a3a" stroke-width="1.1"/>
<path d="M1436.4,447.7 L1436.5,435.8 L1442.5,437.5 Z" fill="#111"/>
<g fill="#000">
<circle cx="146.6" cy="1168.7" r="2.6"/>
<circle cx="150.2" cy="1168.7" r="2.6"/>
<circle cx="153.9" cy="1168.9" r="2.6"/>
<circle cx="160.9" cy="1161.8" r="2.6"/>
<circle cx="164.9" cy="1168.7" r="2.6"/>
<circle cx="168.5" cy="1168.9" r="2.6"/>
<circle cx="172.1" cy="1168.7" r="2.6"/>
<circle cx="175.7" cy="1168.8" r="2.6"/>
<circle cx="179.4" cy="1168.7" r="2.6"/>
<circle cx="183.0" cy="1168.9" r="2.6"/>
<circle cx="186.6" cy="1168.4" r="2.6"/>
<circle cx="191.7" cy="1164.3" r="2.6"/>
<circle cx="196.1" cy="1161.0" r="2.6"/>
<circle cx="200.3" cy="1158.8" r="2.6"/>
<circle cx="203.8" cy="1150.3" r="2.6"/>
<circle cx="207.6" cy="1143.9" r="2.6"/>
<circle cx="211.5" cy="1140.1" r="2.6"/>
<circle cx="215.3" cy="1138.1" r="2.6"/>
<circle cx="219.0" cy="1138.2" r="2.6"/>
<circle cx="222.7" cy="1134.6" r="2.6"/>
<circle cx="225.8" cy="1124.7" r="2.6"/>
<circle cx="229.3" cy="1112.0" r="2.6"/>
<circle cx="233.2" cy="1106.5" r="2.6"/>
<circle cx="236.8" cy="1110.0" r="2.6"/>
<circle cx="240.3" cy="1123.6" r="2.6"/>
<circle cx="243.9" cy="1132.1" r="2.6"/>
<circle cx="247.5" cy="1136.5" r="2.6"/>
<circle cx="251.1" cy="1137.0" r="2.6"/>
<circle cx="254.7" cy="1134.0" r="2.6"/>
<circle cx="258.2" cy="1129.1" r="2.6"/>
<circle cx="261.5" cy="1134.0" r="2.6"/>
<circle cx="265.4" cy="1132.9" r="2.6"/>
<circle cx="268.7" cy="1132.4" r="2.6"/>
<circle cx="272.5" cy="1131.8" r="2.6"/>
<circle cx="276.4" cy="1131.3" r="2.6"/>
<circle cx="279.7" cy="1128.0" r="2.6"/>
<circle cx="283.0" cy="1130.7" r="2.6"/>
<circle cx="286.8" cy="1126.9" r="2.6"/>
<circle cx="290.1" cy="1124.7" r="2.6"/>
<circle cx="293.4" cy="1118.3" r="2.6"/>
<circle cx="297.2" cy="1117.5" r="2.6"/>
<circle cx="295.0" cy="1118.8" r="2.6"/>
<circle cx="297.8" cy="1118.1" r="2.6"/>
<circle cx="301.3" cy="1108.2" r="2.6"/>
<circle cx="304.1" cy="1108.2" r="2.6"/>
<circle cx="308.1" cy="1097.6" r="2.6"/>
<circle cx="311.9" cy="1096.2" r="2.6"/>
<circle cx="315.2" cy="1086.0" r="2.6"/>
<circle cx="319.0" cy="1091.2" r="2.6"/>
<circle cx="322.5" cy="1094.1" r="2.6"/>
<circle cx="326.1" cy="1095.5" r="2.6"/>
<circle cx="329.6" cy="1093.4" r="2.6"/>
<circle cx="333.1" cy="1088.0" r="2.6"/>
<circle cx="336.7" cy="1073.6" r="2.6"/>
<circle cx="340.2" cy="1058.0" r="2.6"/>
<circle cx="343.5" cy="1059.1" r="2.6"/>
<circle cx="347.3" cy="1080.3" r="2.6"/>
<circle cx="350.8" cy="1094.1" r="2.6"/>
<circle cx="354.4" cy="1096.2" r="2.6"/>
<circle cx="357.9" cy="1094.8" r="2.6"/>
<circle cx="361.4" cy="1093.4" r="2.6"/>
<circle cx="365.2" cy="1075.7" r="2.6"/>
<circle cx="368.5" cy="1055.2" r="2.6"/>
<circle cx="372.0" cy="1025.9" r="2.6"/>
<circle cx="389.2" cy="700.9" r="2.6"/>
<circle cx="393.3" cy="703.4" r="2.6"/>
<circle cx="386.0" cy="743.5" r="2.6"/>
<circle cx="397.0" cy="755.2" r="2.6"/>
<circle cx="382.6" cy="817.7" r="2.6"/>
<circle cx="400.6" cy="817.0" r="2.6"/>
<circle cx="403.8" cy="875.4" r="2.6"/>
<circle cx="379.0" cy="902.9" r="2.6"/>
<circle cx="407.4" cy="928.9" r="2.6"/>
<circle cx="375.3" cy="969.1" r="2.6"/>
<circle cx="411.1" cy="965.7" r="2.6"/>
<circle cx="411.0" cy="965.9" r="2.6"/>
<circle cx="414.9" cy="1004.0" r="2.6"/>
<circle cx="418.0" cy="1020.2" r="2.6"/>
<circle cx="421.5" cy="1030.1" r="2.6"/>
<circle cx="425.3" cy="1044.0" r="2.6"/>
<circle cx="428.6" cy="1041.8" r="2.6"/>
<circle cx="432.3" cy="1029.7" r="2.6"/>
<circle cx="435.8" cy="1004.4" r="2.6"/>
<circle cx="439.6" cy="957.6" r="2.6"/>
<circle cx="442.9" cy="945.1" r="2.6"/>
<circle cx="446.2" cy="980.9" r="2.6"/>
<circle cx="450.1" cy="1037.4" r="2.6"/>
<circle cx="453.4" cy="1071.9" r="2.6"/>
<circle cx="457.1" cy="1097.8" r="2.6"/>
<circle cx="460.9" cy="1116.0" r="2.6"/>
<circle cx="464.2" cy="1121.5" r="2.6"/>
<circle cx="468.1" cy="1126.4" r="2.6"/>
<circle cx="471.4" cy="1131.9" r="2.6"/>
<circle cx="474.7" cy="1134.7" r="2.6"/>
<circle cx="478.0" cy="1136.3" r="2.6"/>
<circle cx="481.8" cy="1136.3" r="2.6"/>
<circle cx="485.7" cy="1141.3" r="2.6"/>
<circle cx="489.0" cy="1142.9" r="2.6"/>
<circle cx="492.3" cy="1144.0" r="2.6"/>
<circle cx="496.0" cy="1143.5" r="2.6"/>
<circle cx="499.6" cy="1142.9" r="2.6"/>
<circle cx="502.9" cy="1145.1" r="2.6"/>
<circle cx="506.6" cy="1147.3" r="2.6"/>
<circle cx="509.9" cy="1148.4" r="2.6"/>
<circle cx="513.6" cy="1149.5" r="2.6"/>
<circle cx="500.0" cy="1141.8" r="2.6"/>
<circle cx="503.6" cy="1144.7" r="2.6"/>
<circle cx="507.3" cy="1147.6" r="2.6"/>
<circle cx="510.9" cy="1149.5" r="2.6"/>
<circle cx="514.6" cy="1149.1" r="2.6"/>
<circle cx="517.2" cy="1147.6" r="2.6"/>
<circle cx="520.4" cy="1153.0" r="2.6"/>
<circle cx="523.3" cy="1151.2" r="2.6"/>
<circle cx="527.0" cy="1149.1" r="2.6"/>
<circle cx="529.9" cy="1148.3" r="2.6"/>
<circle cx="532.8" cy="1149.1" r="2.6"/>
<circle cx="535.7" cy="1150.5" r="2.6"/>
<circle cx="538.6" cy="1153.0" r="2.6"/>
<circle cx="541.6" cy="1152.7" r="2.6"/>
<circle cx="544.5" cy="1153.4" r="2.6"/>
<circle cx="547.4" cy="1154.5" r="2.6"/>
<circle cx="550.3" cy="1155.6" r="2.6"/>
<circle cx="553.2" cy="1156.8" r="2.6"/>
<circle cx="556.1" cy="1154.2" r="2.6"/>
<circle cx="559.1" cy="1159.7" r="2.6"/>
<circle cx="562.7" cy="1160.0" r="2.6"/>
<circle cx="566.3" cy="1156.3" r="2.6"/>
<circle cx="569.3" cy="1158.5" r="2.6"/>
<circle cx="572.2" cy="1160.7" r="2.6"/>
<circle cx="575.1" cy="1161.4" r="2.6"/>
<circle cx="578.0" cy="1162.2" r="2.6"/>
<circle cx="580.9" cy="1162.9" r="2.6"/>
<circle cx="583.8" cy="1160.7" r="2.6"/>
<circle cx="587.5" cy="1165.5" r="2.6"/>
<circle cx="590.4" cy="1166.6" r="2.6"/>
<circle cx="594.1" cy="1162.9" r="2.6"/>
<circle cx="597.0" cy="1164.1" r="2.6"/>
<circle cx="600.6" cy="1167.3" r="2.6"/>
<circle cx="603.5" cy="1167.6" r="2.6"/>
<circle cx="606.4" cy="1168.0" r="2.6"/>
<circle cx="609.4" cy="1167.3" r="2.6"/>
<circle cx="612.3" cy="1167.0" r="2.6"/>
<circle cx="615.2" cy="1165.8" r="2.6"/>
<circle cx="618.1" cy="1165.1" r="2.6"/>
<circle cx="621.8" cy="1164.7" r="2.6"/>
<circle cx="624.7" cy="1167.0" r="2.6"/>
<circle cx="627.6" cy="1167.6" r="2.6"/>
<circle cx="630.5" cy="1166.6" r="2.6"/>
<circle cx="633.4" cy="1162.9" r="2.6"/>
<circle cx="636.3" cy="1162.9" r="2.6"/>
<circle cx="639.3" cy="1162.2" r="2.6"/>
<circle cx="642.2" cy="1162.9" r="2.6"/>
<circle cx="645.1" cy="1164.4" r="2.6"/>
<circle cx="648.0" cy="1165.1" r="2.6"/>
<circle cx="650.9" cy="1162.9" r="2.6"/>
<circle cx="653.8" cy="1168.7" r="2.6"/>
<circle cx="656.8" cy="1168.7" r="2.6"/>
<circle cx="659.7" cy="1168.4" r="2.6"/>
<circle cx="662.6" cy="1168.0" r="2.6"/>
<circle cx="665.5" cy="1167.3" r="2.6"/>
<circle cx="668.4" cy="1168.0" r="2.6"/>
<circle cx="671.3" cy="1168.0" r="2.6"/>
<circle cx="674.2" cy="1162.9" r="2.6"/>
<circle cx="677.2" cy="1164.4" r="2.6"/>
<circle cx="680.1" cy="1165.1" r="2.6"/>
<circle cx="683.0" cy="1165.8" r="2.6"/>
<circle cx="685.9" cy="1168.7" r="2.6"/>
<circle cx="688.8" cy="1165.1" r="2.6"/>
<circle cx="691.7" cy="1169.5" r="2.6"/>
<circle cx="694.7" cy="1169.5" r="2.6"/>
<circle cx="697.6" cy="1168.7" r="2.6"/>
<circle cx="700.5" cy="1169.5" r="2.6"/>
<circle cx="703.4" cy="1169.5" r="2.6"/>
<circle cx="706.3" cy="1169.5" r="2.6"/>
<circle cx="709.2" cy="1169.5" r="2.6"/>
<circle cx="712.2" cy="1169.5" r="2.6"/>
<circle cx="715.1" cy="1169.5" r="2.6"/>
<circle cx="718.0" cy="1168.7" r="2.6"/>
<circle cx="720.9" cy="1169.5" r="2.6"/>
<circle cx="723.8" cy="1169.5" r="2.6"/>
<circle cx="726.7" cy="1169.5" r="2.6"/>
<circle cx="729.7" cy="1169.5" r="2.6"/>
<circle cx="732.6" cy="1169.5" r="2.6"/>
</g>
<g fill="none" stroke="#ff5c5c" stroke-width="1.4" stroke-linejoin="round">
<path d="M144.5,1165.3 167.1,1164.7 178.1,1164.0 185.4,1163.3 192.6,1162.2 196.3,1161.4 199.9,1160.3 203.6,1158.7 207.2,1156.5 210.9,1153.4 214.5,1149.0 218.2,1143.3 225.4,1128.9 229.1,1123.5 232.7,1122.9 236.4,1127.3 243.7,1141.7 247.3,1147.8 251.0,1152.5 254.6,1155.9 258.3,1158.3 261.9,1160.0 265.5,1161.2 272.8,1162.7 283.8,1163.9 294.7,1164.6 312.9,1165.2 367.6,1165.8 477.0,1166.1 734.2,1166.2"/>
<path d="M144.5,1165.8 178.1,1165.5 199.9,1165.1 214.5,1164.4 225.4,1163.2 232.7,1161.7 240.0,1159.3 247.3,1155.8 261.9,1147.0 265.5,1145.2 269.2,1143.9 272.8,1143.4 276.5,1143.9 280.1,1145.1 283.8,1147.0 298.4,1155.8 305.6,1159.2 309.3,1160.6 312.9,1161.7 320.2,1163.2 327.5,1164.1 338.5,1164.8 353.0,1165.3 371.3,1165.6 425.9,1165.9 734.2,1166.2"/>
<path d="M144.5,1166.0 214.5,1165.7 251.0,1165.0 261.9,1164.5 272.8,1163.5 280.1,1162.3 283.8,1161.2 287.4,1159.4 291.1,1156.7 294.7,1152.5 298.4,1146.4 302.0,1138.5 309.3,1119.2 312.9,1111.5 316.6,1109.0 320.2,1112.8 323.9,1121.3 331.2,1140.4 334.8,1147.9 338.5,1153.5 342.1,1157.4 345.7,1159.9 349.4,1161.5 353.0,1162.5 356.7,1163.1 367.6,1164.3 382.2,1165.0 400.4,1165.5 425.9,1165.8 517.1,1166.1 734.2,1166.2"/>
<path d="M144.5,1166.2 243.7,1166.0 287.4,1165.7 298.4,1165.4 309.3,1164.7 316.6,1163.8 320.2,1163.0 323.9,1161.5 327.5,1158.1 331.2,1150.1 334.8,1134.4 338.5,1113.0 342.1,1101.1 345.7,1113.6 349.4,1134.9 353.0,1150.4 356.7,1158.3 360.3,1161.6 364.0,1163.1 367.6,1163.9 374.9,1164.7 385.8,1165.4 400.4,1165.7 422.3,1165.9 502.5,1166.1 734.2,1166.2"/>
<path d="M144.5,1165.0 203.6,1164.2 243.7,1163.0 261.9,1162.1 276.5,1161.0 287.4,1159.9 298.4,1158.4 309.3,1156.2 316.6,1154.3 323.9,1151.8 327.5,1150.3 331.2,1148.5 334.8,1146.3 338.5,1143.7 342.1,1140.5 345.7,1136.5 349.4,1131.3 353.0,1124.1 356.7,1114.1 360.3,1099.7 364.0,1079.3 367.6,1051.0 371.3,1012.9 374.9,964.2 378.6,905.8 385.8,778.8 389.5,732.7 393.1,718.2 396.8,741.2 400.4,792.7 407.7,920.3 411.4,976.6 415.0,1022.8 418.7,1058.5 422.3,1084.8 425.9,1103.6 429.6,1116.8 433.2,1126.0 436.9,1132.7 440.5,1137.6 444.2,1141.4 447.8,1144.4 451.5,1146.8 455.1,1148.9 458.8,1150.7 466.0,1153.5 473.3,1155.6 484.3,1157.9 495.2,1159.5 506.1,1160.7 520.7,1161.9 535.3,1162.7 553.5,1163.4 579.1,1164.1 641.0,1165.0 734.2,1165.6"/>
<path d="M144.5,1166.0 287.4,1165.6 327.5,1165.1 353.0,1164.3 364.0,1163.8 374.9,1162.9 382.2,1162.1 389.5,1160.9 396.8,1159.2 400.4,1158.0 404.1,1156.4 407.7,1154.3 411.4,1151.3 415.0,1146.6 418.7,1138.9 422.3,1126.2 425.9,1106.3 429.6,1077.5 436.9,1003.0 440.5,978.7 444.2,983.9 447.8,1014.6 451.5,1053.4 455.1,1087.8 458.8,1113.6 462.4,1131.0 466.0,1141.8 469.7,1148.4 473.3,1152.4 477.0,1155.1 480.6,1157.0 484.3,1158.4 487.9,1159.5 495.2,1161.2 502.5,1162.3 509.8,1163.0 520.7,1163.8 531.7,1164.4 557.2,1165.1 597.3,1165.6 734.2,1166.0"/>
<path d="M144.5,1165.7 232.7,1165.3 302.0,1164.7 353.0,1164.0 433.2,1162.3 466.0,1162.0 498.9,1162.3 575.4,1163.9 619.2,1164.6 670.2,1165.1 734.2,1165.5"/>
</g>
<path fill="none" stroke="#5050ff" stroke-width="1.4" stroke-linejoin="round" d="M144.5,1163.0 145.5,1164.3 184.0,1162.1 195.0,1159.3 203.8,1154.4 211.5,1145.6 219.2,1135.7 225.8,1121.4 231.3,1115.3 235.7,1116.4 241.2,1123.6 245.6,1130.2 250.0,1134.6 254.4,1135.7 261.0,1136.2 272.0,1132.4 283.0,1128.0 297.1,1117.4 304.1,1107.5 308.4,1097.6 314.0,1091.7 319.7,1091.9 325.4,1096.2 331.0,1091.9 336.7,1076.4 340.9,1060.8 344.5,1063.6 348.0,1079.2 352.2,1093.4 356.5,1100.4 360.7,1094.8 363.6,1084.9 372.0,1011.3 374.6,969.8 377.8,909.0 380.7,836.0 384.3,763.0 389.2,714.3 392.8,703.4 396.5,719.2 397.7,763.0 401.4,836.0 405.7,909.0 409.9,969.8 413.2,998.9 417.6,1027.5 422.0,1049.5 424.6,1053.8 428.6,1040.7 433.0,1014.3 437.4,972.5 440.7,954.9 442.9,957.1 446.2,983.5 450.5,1031.9 454.9,1075.8 459.3,1104.4 465.9,1126.4 474.7,1139.6 487.9,1148.4 501.1,1152.7 529.2,1160.0 558.3,1162.9 587.5,1164.4 734.2,1165.8"/>
<g stroke="#111" stroke-width="1.8" fill="none" stroke-linecap="square">
<rect x="144.5" y="696.8" width="589.7" height="474.5"/>
<line x1="198.1" y1="1171.3" x2="198.1" y2="1180.3"/>
<line x1="198.1" y1="696.8" x2="198.1" y2="705.8"/>
<line x1="332.1" y1="1171.3" x2="332.1" y2="1180.3"/>
<line x1="332.1" y1="696.8" x2="332.1" y2="705.8"/>
<line x1="466.2" y1="1171.3" x2="466.2" y2="1180.3"/>
<line x1="466.2" y1="696.8" x2="466.2" y2="705.8"/>
<line x1="600.2" y1="1171.3" x2="600.2" y2="1180.3"/>
<line x1="600.2" y1="696.8" x2="600.2" y2="705.8"/>
<line x1="734.2" y1="1171.3" x2="734.2" y2="1180.3"/>
<line x1="734.2" y1="696.8" x2="734.2" y2="705.8"/>
<line x1="265.1" y1="1171.3" x2="265.1" y2="1175.8"/>
<line x1="265.1" y1="696.8" x2="265.1" y2="701.3"/>
<line x1="399.1" y1="1171.3" x2="399.1" y2="1175.8"/>
<line x1="399.1" y1="696.8" x2="399.1" y2="701.3"/>
<line x1="533.2" y1="1171.3" x2="533.2" y2="1175.8"/>
<line x1="533.2" y1="696.8" x2="533.2" y2="701.3"/>
<line x1="667.2" y1="1171.3" x2="667.2" y2="1175.8"/>
<line x1="667.2" y1="696.8" x2="667.2" y2="701.3"/>
<line x1="135.5" y1="1166.2" x2="144.5" y2="1166.2"/>
<line x1="725.2" y1="1166.2" x2="734.2" y2="1166.2"/>
<line x1="135.5" y1="1061.3" x2="144.5" y2="1061.3"/>
<line x1="725.2" y1="1061.3" x2="734.2" y2="1061.3"/>
<line x1="135.5" y1="956.4" x2="144.5" y2="956.4"/>
<line x1="725.2" y1="956.4" x2="734.2" y2="956.4"/>
<line x1="135.5" y1="851.5" x2="144.5" y2="851.5"/>
<line x1="725.2" y1="851.5" x2="734.2" y2="851.5"/>
<line x1="135.5" y1="746.6" x2="144.5" y2="746.6"/>
<line x1="725.2" y1="746.6" x2="734.2" y2="746.6"/>
<line x1="140.0" y1="1113.8" x2="144.5" y2="1113.8"/>
<line x1="729.7" y1="1113.8" x2="734.2" y2="1113.8"/>
<line x1="140.0" y1="1008.9" x2="144.5" y2="1008.9"/>
<line x1="729.7" y1="1008.9" x2="734.2" y2="1008.9"/>
<line x1="140.0" y1="904.0" x2="144.5" y2="904.0"/>
<line x1="729.7" y1="904.0" x2="734.2" y2="904.0"/>
<line x1="140.0" y1="799.0" x2="144.5" y2="799.0"/>
<line x1="729.7" y1="799.0" x2="734.2" y2="799.0"/>
<line x1="140.0" y1="696.8" x2="144.5" y2="696.8"/>
<line x1="729.7" y1="696.8" x2="734.2" y2="696.8"/>
</g>
<g font-family='"Liberation Sans", Arial, sans-serif' font-size="29" fill="#000">
<text x="128.4" y="1174.2" text-anchor="end">0</text>
<text x="128.4" y="1069.3" text-anchor="end">1000</text>
<text x="128.4" y="964.4" text-anchor="end">2000</text>
<text x="128.4" y="859.5" text-anchor="end">3000</text>
<text x="128.4" y="754.6" text-anchor="end">4000</text>
<text x="198.6" y="1209.7" text-anchor="middle">50</text>
<text x="332.6" y="1209.7" text-anchor="middle">100</text>
<text x="466.7" y="1209.7" text-anchor="middle">150</text>
<text x="600.7" y="1209.7" text-anchor="middle">200</text>
<text x="734.7" y="1209.7" text-anchor="middle">250</text>
</g>
<text transform="translate(30.2,1023.7) rotate(-90)" font-family='"Liberation Sans", Arial, sans-serif' font-size="29.3">Intensity [arb.u]</text>
<text x="320.6" y="1260.4" font-family='"Liberation Sans", Arial, sans-serif' font-size="29.2">Raman shift [cm<tspan dy="-12" font-size="20">-1</tspan><tspan dy="12">]</tspan></text>
<text x="193.2" y="1091.1" font-family='"Liberation Sans", Arial, sans-serif' font-size="29.3">A</text>
<text x="212.7" y="1079.3" font-family='"Liberation Sans", Arial, sans-serif' font-size="20">1</text>
<text x="212.7" y="1099.4" font-family='"Liberation Sans", Arial, sans-serif' font-size="20">1g</text>
<text x="244.3" y="1097.2" font-family='"Liberation Sans", Arial, sans-serif' font-size="29.3" text-anchor="start">P2</text>
<text x="246.7" y="1031.1" font-family='"Liberation Sans", Arial, sans-serif' font-size="29.3" text-anchor="start">SPM</text>
<text x="325.8" y="1032.5" font-family='"Liberation Sans", Arial, sans-serif' font-size="29.3">E</text>
<text x="345.3" y="1020.7" font-family='"Liberation Sans", Arial, sans-serif' font-size="20">2</text>
<text x="345.3" y="1040.8" font-family='"Liberation Sans", Arial, sans-serif' font-size="20">g</text>
<text x="416.0" y="740.8" font-family='"Liberation Sans", Arial, sans-serif' font-size="29.3">A</text>
<text x="435.5" y="729.0" font-family='"Liberation Sans", Arial, sans-serif' font-size="20">2</text>
<text x="435.5" y="749.1" font-family='"Liberation Sans", Arial, sans-serif' font-size="20">1u</text>
<text x="448.7" y="931.9" font-family='"Liberation Sans", Arial, sans-serif' font-size="29.3">A</text>
<text x="468.2" y="920.1" font-family='"Liberation Sans", Arial, sans-serif' font-size="20">2</text>
<text x="468.2" y="940.2" font-family='"Liberation Sans", Arial, sans-serif' font-size="20">1g</text>
<text x="570.1" y="788.9" font-family='"Liberation Serif", "Times New Roman", serif' font-size="47.1" text-anchor="start">(b)</text>
<line x1="256.3" y1="1102.2" x2="263.0" y2="1136.6" stroke="#3a3a3a" stroke-width="1.1"/>
<path d="M264.8,1145.9 L259.6,1135.2 L265.6,1134.0 Z" fill="#111"/>
<line x1="290.4" y1="1036.6" x2="310.3" y2="1101.3" stroke="#3a3a3a" stroke-width="1.1"/>
<path d="M313.1,1110.4 L306.8,1100.3 L312.7,1098.5 Z" fill="#111"/>
<g fill="#000">
<circle cx="1018.5" cy="1165.5" r="2.6"/>
<circle cx="1021.5" cy="1166.3" r="2.6"/>
<circle cx="1024.5" cy="1166.5" r="2.6"/>
<circle cx="1027.5" cy="1164.8" r="2.6"/>
<circle cx="1030.5" cy="1164.6" r="2.6"/>
<circle cx="1033.5" cy="1165.7" r="2.6"/>
<circle cx="1036.5" cy="1165.9" r="2.6"/>
<circle cx="1039.5" cy="1166.1" r="2.6"/>
<circle cx="1042.5" cy="1164.5" r="2.6"/>
<circle cx="1045.5" cy="1164.3" r="2.6"/>
<circle cx="1048.5" cy="1165.5" r="2.6"/>
<circle cx="1051.5" cy="1165.5" r="2.6"/>
<circle cx="1054.5" cy="1166.2" r="2.6"/>
<circle cx="1057.5" cy="1166.0" r="2.6"/>
<circle cx="1060.5" cy="1165.5" r="2.6"/>
<circle cx="1063.5" cy="1165.5" r="2.6"/>
<circle cx="1066.5" cy="1167.3" r="2.6"/>
<circle cx="1069.5" cy="1165.7" r="2.6"/>
<circle cx="1072.5" cy="1164.9" r="2.6"/>
<circle cx="1075.5" cy="1164.0" r="2.6"/>
<circle cx="1078.5" cy="1164.4" r="2.6"/>
<circle cx="1081.5" cy="1163.8" r="2.6"/>
<circle cx="1084.5" cy="1159.8" r="2.6"/>
<circle cx="1087.5" cy="1155.6" r="2.6"/>
<circle cx="1090.5" cy="1150.5" r="2.6"/>
<circle cx="1093.5" cy="1146.5" r="2.6"/>
<circle cx="1096.5" cy="1144.9" r="2.6"/>
<circle cx="1099.5" cy="1143.2" r="2.6"/>
<circle cx="1102.5" cy="1141.2" r="2.6"/>
<circle cx="1105.5" cy="1142.2" r="2.6"/>
<circle cx="1108.5" cy="1139.6" r="2.6"/>
<circle cx="1111.5" cy="1137.4" r="2.6"/>
<circle cx="1114.5" cy="1132.7" r="2.6"/>
<circle cx="1117.5" cy="1132.0" r="2.6"/>
<circle cx="1120.5" cy="1134.2" r="2.6"/>
<circle cx="1123.5" cy="1137.8" r="2.6"/>
<circle cx="1126.5" cy="1142.3" r="2.6"/>
<circle cx="1129.5" cy="1143.5" r="2.6"/>
<circle cx="1132.5" cy="1144.2" r="2.6"/>
<circle cx="1135.5" cy="1141.8" r="2.6"/>
<circle cx="1138.5" cy="1141.9" r="2.6"/>
<circle cx="1141.5" cy="1142.1" r="2.6"/>
<circle cx="1144.5" cy="1141.9" r="2.6"/>
<circle cx="1147.5" cy="1142.1" r="2.6"/>
<circle cx="1150.5" cy="1141.0" r="2.6"/>
<circle cx="1153.5" cy="1139.3" r="2.6"/>
<circle cx="1156.5" cy="1139.0" r="2.6"/>
<circle cx="1159.5" cy="1137.2" r="2.6"/>
<circle cx="1162.5" cy="1138.3" r="2.6"/>
<circle cx="1165.5" cy="1136.0" r="2.6"/>
<circle cx="1168.5" cy="1135.2" r="2.6"/>
<circle cx="1171.5" cy="1133.5" r="2.6"/>
<circle cx="1174.5" cy="1133.0" r="2.6"/>
<circle cx="1177.5" cy="1130.1" r="2.6"/>
<circle cx="1180.5" cy="1128.4" r="2.6"/>
<circle cx="1183.5" cy="1126.2" r="2.6"/>
<circle cx="1186.5" cy="1122.5" r="2.6"/>
<circle cx="1189.5" cy="1117.1" r="2.6"/>
<circle cx="1192.5" cy="1110.8" r="2.6"/>
<circle cx="1195.5" cy="1109.2" r="2.6"/>
<circle cx="1198.5" cy="1109.4" r="2.6"/>
<circle cx="1201.5" cy="1110.5" r="2.6"/>
<circle cx="1204.5" cy="1114.1" r="2.6"/>
<circle cx="1207.5" cy="1113.2" r="2.6"/>
<circle cx="1210.5" cy="1113.0" r="2.6"/>
<circle cx="1213.5" cy="1109.3" r="2.6"/>
<circle cx="1216.5" cy="1102.7" r="2.6"/>
<circle cx="1219.5" cy="1096.2" r="2.6"/>
<circle cx="1222.5" cy="1094.5" r="2.6"/>
<circle cx="1225.5" cy="1098.1" r="2.6"/>
<circle cx="1228.5" cy="1108.2" r="2.6"/>
<circle cx="1231.5" cy="1117.6" r="2.6"/>
<circle cx="1234.5" cy="1118.5" r="2.6"/>
<circle cx="1237.5" cy="1119.2" r="2.6"/>
<circle cx="1240.5" cy="1116.2" r="2.6"/>
<circle cx="1243.5" cy="1109.0" r="2.6"/>
<circle cx="1245.4" cy="1101.5" r="2.6"/>
<circle cx="1249.2" cy="1088.1" r="2.6"/>
<circle cx="1252.7" cy="1063.8" r="2.6"/>
<circle cx="1255.8" cy="1020.0" r="2.6"/>
<circle cx="1259.2" cy="962.3" r="2.6"/>
<circle cx="1262.7" cy="888.8" r="2.6"/>
<circle cx="1266.2" cy="813.8" r="2.6"/>
<circle cx="1269.2" cy="752.3" r="2.6"/>
<circle cx="1273.1" cy="732.3" r="2.6"/>
<circle cx="1277.7" cy="747.7" r="2.6"/>
<circle cx="1280.0" cy="788.1" r="2.6"/>
<circle cx="1283.8" cy="845.8" r="2.6"/>
<circle cx="1287.3" cy="900.4" r="2.6"/>
<circle cx="1290.8" cy="946.2" r="2.6"/>
<circle cx="1294.2" cy="988.1" r="2.6"/>
<circle cx="1297.4" cy="1017.9" r="2.6"/>
<circle cx="1301.2" cy="1040.0" r="2.6"/>
<circle cx="1304.7" cy="1052.4" r="2.6"/>
<circle cx="1307.8" cy="1057.1" r="2.6"/>
<circle cx="1311.3" cy="1052.8" r="2.6"/>
<circle cx="1314.7" cy="1037.8" r="2.6"/>
<circle cx="1318.2" cy="1007.0" r="2.6"/>
<circle cx="1322.0" cy="990.2" r="2.6"/>
<circle cx="1325.4" cy="1005.3" r="2.6"/>
<circle cx="1328.9" cy="1037.8" r="2.6"/>
<circle cx="1332.3" cy="1069.2" r="2.6"/>
<circle cx="1335.8" cy="1092.2" r="2.6"/>
<circle cx="1339.2" cy="1107.7" r="2.6"/>
<circle cx="1342.7" cy="1116.4" r="2.6"/>
<circle cx="1346.2" cy="1121.6" r="2.6"/>
<circle cx="1349.6" cy="1128.5" r="2.6"/>
<circle cx="1353.1" cy="1131.1" r="2.6"/>
<circle cx="1356.5" cy="1133.6" r="2.6"/>
<circle cx="1360.0" cy="1137.1" r="2.6"/>
<circle cx="1363.4" cy="1138.8" r="2.6"/>
<circle cx="1366.9" cy="1140.6" r="2.6"/>
<circle cx="1370.3" cy="1142.3" r="2.6"/>
<circle cx="1373.8" cy="1144.0" r="2.6"/>
<circle cx="1377.3" cy="1146.3" r="2.6"/>
<circle cx="1380.7" cy="1147.0" r="2.6"/>
<circle cx="1384.2" cy="1148.3" r="2.6"/>
<circle cx="1387.6" cy="1149.7" r="2.6"/>
<circle cx="1391.1" cy="1150.9" r="2.6"/>
<circle cx="1394.5" cy="1151.4" r="2.6"/>
<circle cx="1398.0" cy="1151.8" r="2.6"/>
<circle cx="1401.4" cy="1153.5" r="2.6"/>
<circle cx="1404.9" cy="1155.3" r="2.6"/>
<circle cx="1408.4" cy="1153.5" r="2.6"/>
<circle cx="1411.8" cy="1156.1" r="2.6"/>
<circle cx="1415.3" cy="1156.1" r="2.6"/>
<circle cx="1418.7" cy="1157.0" r="2.6"/>
<circle cx="1422.2" cy="1157.0" r="2.6"/>
<circle cx="1425.6" cy="1158.4" r="2.6"/>
<circle cx="1429.1" cy="1159.6" r="2.6"/>
<circle cx="1432.5" cy="1160.8" r="2.6"/>
<circle cx="1436.0" cy="1160.8" r="2.6"/>
<circle cx="1439.5" cy="1161.3" r="2.6"/>
<circle cx="1442.9" cy="1162.2" r="2.6"/>
<circle cx="1446.4" cy="1162.2" r="2.6"/>
<circle cx="1450.0" cy="1162.2" r="2.6"/>
<circle cx="1453.0" cy="1162.8" r="2.6"/>
<circle cx="1456.0" cy="1162.9" r="2.6"/>
<circle cx="1459.0" cy="1162.7" r="2.6"/>
<circle cx="1462.0" cy="1163.3" r="2.6"/>
<circle cx="1465.0" cy="1164.2" r="2.6"/>
<circle cx="1468.0" cy="1163.2" r="2.6"/>
<circle cx="1471.0" cy="1163.3" r="2.6"/>
<circle cx="1474.0" cy="1165.2" r="2.6"/>
<circle cx="1477.0" cy="1164.5" r="2.6"/>
<circle cx="1480.0" cy="1165.3" r="2.6"/>
<circle cx="1483.0" cy="1165.4" r="2.6"/>
<circle cx="1486.0" cy="1164.2" r="2.6"/>
<circle cx="1489.0" cy="1166.4" r="2.6"/>
<circle cx="1492.0" cy="1166.1" r="2.6"/>
<circle cx="1495.0" cy="1165.2" r="2.6"/>
<circle cx="1498.0" cy="1165.7" r="2.6"/>
<circle cx="1501.0" cy="1165.4" r="2.6"/>
<circle cx="1504.0" cy="1164.7" r="2.6"/>
<circle cx="1507.0" cy="1165.1" r="2.6"/>
<circle cx="1510.0" cy="1165.2" r="2.6"/>
<circle cx="1513.0" cy="1165.6" r="2.6"/>
<circle cx="1516.0" cy="1165.2" r="2.6"/>
<circle cx="1519.0" cy="1164.7" r="2.6"/>
<circle cx="1522.0" cy="1165.4" r="2.6"/>
<circle cx="1525.0" cy="1164.0" r="2.6"/>
<circle cx="1528.0" cy="1164.9" r="2.6"/>
<circle cx="1531.0" cy="1164.9" r="2.6"/>
<circle cx="1534.0" cy="1164.1" r="2.6"/>
<circle cx="1537.0" cy="1163.4" r="2.6"/>
<circle cx="1540.0" cy="1164.1" r="2.6"/>
<circle cx="1543.0" cy="1165.0" r="2.6"/>
<circle cx="1546.0" cy="1165.4" r="2.6"/>
<circle cx="1549.0" cy="1166.2" r="2.6"/>
<circle cx="1552.0" cy="1164.9" r="2.6"/>
<circle cx="1555.0" cy="1165.7" r="2.6"/>
<circle cx="1558.0" cy="1166.3" r="2.6"/>
<circle cx="1561.0" cy="1166.0" r="2.6"/>
<circle cx="1564.0" cy="1164.9" r="2.6"/>
<circle cx="1567.0" cy="1166.9" r="2.6"/>
<circle cx="1570.0" cy="1167.8" r="2.6"/>
<circle cx="1573.0" cy="1167.1" r="2.6"/>
<circle cx="1576.0" cy="1166.0" r="2.6"/>
<circle cx="1579.0" cy="1166.4" r="2.6"/>
<circle cx="1582.0" cy="1166.9" r="2.6"/>
<circle cx="1585.0" cy="1168.3" r="2.6"/>
<circle cx="1588.0" cy="1167.2" r="2.6"/>
<circle cx="1591.0" cy="1167.0" r="2.6"/>
<circle cx="1594.0" cy="1167.9" r="2.6"/>
<circle cx="1597.0" cy="1167.0" r="2.6"/>
<circle cx="1600.0" cy="1168.3" r="2.6"/>
<circle cx="1603.0" cy="1166.8" r="2.6"/>
</g>
<g fill="none" stroke="#ff5c5c" stroke-width="1.4" stroke-linejoin="round">
<path d="M1016.7,1167.7 1044.0,1167.4 1057.6,1167.0 1067.8,1166.2 1074.6,1164.8 1078.0,1163.7 1081.4,1162.2 1084.9,1160.3 1088.3,1158.0 1091.7,1155.3 1101.9,1146.6 1105.3,1144.4 1108.7,1143.0 1112.1,1142.8 1115.5,1143.7 1118.9,1145.7 1122.3,1148.3 1132.6,1157.0 1136.0,1159.5 1139.4,1161.5 1142.8,1163.2 1146.2,1164.4 1149.6,1165.3 1153.0,1166.0 1156.4,1166.4 1163.2,1167.0 1173.5,1167.3 1190.5,1167.6 1245.0,1167.8 1606.5,1168.0"/>
<path d="M1016.7,1167.7 1054.2,1167.5 1074.6,1167.1 1088.3,1166.5 1098.5,1165.5 1108.7,1163.7 1115.5,1161.9 1118.9,1160.7 1125.7,1158.2 1142.8,1150.7 1149.6,1148.3 1153.0,1147.5 1156.4,1147.1 1159.8,1147.0 1163.2,1147.3 1166.6,1148.0 1170.0,1149.0 1176.9,1151.6 1193.9,1159.0 1200.7,1161.4 1204.1,1162.5 1210.9,1164.1 1217.8,1165.3 1224.6,1166.1 1234.8,1166.8 1258.6,1167.4 1313.2,1167.7 1606.5,1168.0"/>
<path d="M1016.7,1167.9 1091.7,1167.8 1132.6,1167.4 1153.0,1166.8 1159.8,1166.1 1163.2,1165.5 1166.6,1164.4 1170.0,1162.6 1173.5,1159.7 1176.9,1155.6 1180.3,1150.0 1187.1,1136.3 1190.5,1130.2 1193.9,1126.5 1197.3,1126.7 1200.7,1130.6 1204.1,1136.9 1210.9,1150.5 1214.3,1155.9 1217.8,1160.0 1221.2,1162.7 1224.6,1164.5 1228.0,1165.6 1231.4,1166.2 1234.8,1166.6 1241.6,1167.0 1255.2,1167.4 1299.5,1167.8 1606.5,1168.0"/>
<path d="M1016.7,1168.0 1166.6,1167.8 1190.5,1167.4 1197.3,1167.0 1200.7,1166.6 1204.1,1165.8 1207.5,1163.5 1210.9,1158.0 1214.3,1147.5 1217.8,1133.9 1221.2,1125.3 1224.6,1130.2 1228.0,1143.4 1231.4,1155.4 1234.8,1162.3 1238.2,1165.3 1241.6,1166.4 1245.0,1166.9 1251.8,1167.3 1262.1,1167.6 1296.1,1167.9 1606.5,1168.0"/>
<path d="M1016.7,1167.2 1084.9,1166.5 1129.2,1165.5 1146.2,1164.8 1163.2,1163.8 1176.9,1162.5 1187.1,1161.2 1197.3,1159.3 1204.1,1157.7 1210.9,1155.5 1217.8,1152.4 1221.2,1150.5 1224.6,1148.1 1228.0,1145.1 1231.4,1141.1 1234.8,1135.5 1238.2,1127.6 1241.6,1116.1 1245.0,1099.3 1248.4,1075.6 1251.8,1043.0 1255.2,1000.7 1258.6,948.8 1265.5,828.7 1268.9,775.5 1272.3,743.0 1275.7,741.7 1279.1,772.1 1282.5,824.2 1289.3,944.4 1292.7,997.0 1296.1,1040.1 1299.5,1073.4 1302.9,1097.8 1306.4,1115.0 1309.8,1126.9 1313.2,1135.0 1316.6,1140.7 1320.0,1144.8 1323.4,1147.9 1326.8,1150.3 1330.2,1152.3 1337.0,1155.4 1343.8,1157.6 1354.1,1160.0 1364.3,1161.7 1377.9,1163.2 1391.6,1164.2 1408.6,1165.1 1449.5,1166.3 1510.8,1167.1 1606.5,1167.5"/>
<path d="M1016.7,1167.9 1166.6,1167.5 1207.5,1167.2 1234.8,1166.6 1255.2,1165.6 1268.9,1164.2 1275.7,1163.1 1279.1,1162.4 1282.5,1161.4 1285.9,1160.2 1289.3,1158.6 1292.7,1156.3 1296.1,1152.8 1299.5,1147.2 1302.9,1138.1 1306.4,1124.0 1309.8,1103.8 1313.2,1077.5 1316.6,1048.7 1320.0,1026.1 1323.4,1021.7 1326.8,1038.6 1333.6,1094.3 1337.0,1117.0 1340.4,1133.4 1343.8,1144.2 1347.3,1151.0 1350.7,1155.2 1354.1,1157.8 1357.5,1159.7 1360.9,1161.0 1364.3,1162.0 1367.7,1162.9 1374.5,1164.1 1388.1,1165.5 1408.6,1166.5 1432.4,1167.1 1469.9,1167.5 1606.5,1167.9"/>
<path d="M1016.7,1167.8 1115.5,1167.6 1190.5,1167.1 1251.8,1166.4 1360.9,1164.8 1405.2,1164.5 1459.7,1164.8 1606.5,1166.9"/>
</g>
<path fill="none" stroke="#5050ff" stroke-width="1.4" stroke-linejoin="round" d="M1016.9,1166.3 1070.5,1165.5 1079.1,1163.3 1083.4,1159.8 1087.8,1155.5 1092.9,1149.5 1099.0,1144.3 1105.0,1140.0 1115.0,1135.2 1118.9,1136.5 1122.3,1139.1 1130.4,1143.6 1148.9,1141.7 1158.6,1138.7 1168.3,1135.3 1178.0,1130.0 1185.8,1124.2 1190.7,1115.4 1193.6,1111.5 1199.4,1110.5 1203.3,1113.0 1207.2,1114.0 1212.1,1111.5 1216.0,1102.8 1220.8,1095.0 1224.7,1098.9 1232.5,1118.3 1237.3,1120.3 1241.2,1117.4 1246.1,1101.8 1250.0,1087.2 1252.9,1060.0 1253.8,1036.2 1257.7,978.5 1261.5,905.4 1269.2,766.9 1272.3,740.0 1275.0,736.2 1276.9,751.5 1280.8,816.9 1284.6,874.6 1292.3,982.3 1296.5,1023.0 1300.4,1042.9 1303.8,1054.2 1307.3,1057.6 1310.7,1053.3 1314.2,1036.0 1317.6,1017.0 1322.0,999.7 1325.4,1011.8 1328.9,1034.3 1332.3,1060.2 1335.8,1084.4 1339.2,1103.4 1343.6,1119.0 1348.7,1130.2 1355.7,1139.7 1362.6,1145.7 1371.2,1151.8 1381.6,1157.0 1393.7,1160.4 1410.9,1163.0 1450.0,1165.6 1606.5,1166.5"/>
<g stroke="#111" stroke-width="1.8" fill="none" stroke-linecap="square">
<rect x="1016.7" y="697.0" width="589.8" height="474.2"/>
<line x1="1082.2" y1="1171.2" x2="1082.2" y2="1180.2"/>
<line x1="1082.2" y1="697.0" x2="1082.2" y2="706.0"/>
<line x1="1213.3" y1="1171.2" x2="1213.3" y2="1180.2"/>
<line x1="1213.3" y1="697.0" x2="1213.3" y2="706.0"/>
<line x1="1344.4" y1="1171.2" x2="1344.4" y2="1180.2"/>
<line x1="1344.4" y1="697.0" x2="1344.4" y2="706.0"/>
<line x1="1475.4" y1="1171.2" x2="1475.4" y2="1180.2"/>
<line x1="1475.4" y1="697.0" x2="1475.4" y2="706.0"/>
<line x1="1606.5" y1="1171.2" x2="1606.5" y2="1180.2"/>
<line x1="1606.5" y1="697.0" x2="1606.5" y2="706.0"/>
<line x1="1016.7" y1="1171.2" x2="1016.7" y2="1175.7"/>
<line x1="1016.7" y1="697.0" x2="1016.7" y2="701.5"/>
<line x1="1147.8" y1="1171.2" x2="1147.8" y2="1175.7"/>
<line x1="1147.8" y1="697.0" x2="1147.8" y2="701.5"/>
<line x1="1278.8" y1="1171.2" x2="1278.8" y2="1175.7"/>
<line x1="1278.8" y1="697.0" x2="1278.8" y2="701.5"/>
<line x1="1409.9" y1="1171.2" x2="1409.9" y2="1175.7"/>
<line x1="1409.9" y1="697.0" x2="1409.9" y2="701.5"/>
<line x1="1541.0" y1="1171.2" x2="1541.0" y2="1175.7"/>
<line x1="1541.0" y1="697.0" x2="1541.0" y2="701.5"/>
<line x1="1007.7" y1="1168.0" x2="1016.7" y2="1168.0"/>
<line x1="1597.5" y1="1168.0" x2="1606.5" y2="1168.0"/>
<line x1="1007.7" y1="1050.3" x2="1016.7" y2="1050.3"/>
<line x1="1597.5" y1="1050.3" x2="1606.5" y2="1050.3"/>
<line x1="1007.7" y1="932.6" x2="1016.7" y2="932.6"/>
<line x1="1597.5" y1="932.6" x2="1606.5" y2="932.6"/>
<line x1="1007.7" y1="814.9" x2="1016.7" y2="814.9"/>
<line x1="1597.5" y1="814.9" x2="1606.5" y2="814.9"/>
<line x1="1007.7" y1="697.2" x2="1016.7" y2="697.2"/>
<line x1="1597.5" y1="697.2" x2="1606.5" y2="697.2"/>
<line x1="1012.2" y1="1109.2" x2="1016.7" y2="1109.2"/>
<line x1="1602.0" y1="1109.2" x2="1606.5" y2="1109.2"/>
<line x1="1012.2" y1="991.5" x2="1016.7" y2="991.5"/>
<line x1="1602.0" y1="991.5" x2="1606.5" y2="991.5"/>
<line x1="1012.2" y1="873.8" x2="1016.7" y2="873.8"/>
<line x1="1602.0" y1="873.8" x2="1606.5" y2="873.8"/>
<line x1="1012.2" y1="756.0" x2="1016.7" y2="756.0"/>
<line x1="1602.0" y1="756.0" x2="1606.5" y2="756.0"/>
</g>
<g font-family='"Liberation Sans", Arial, sans-serif' font-size="29" fill="#000">
<text x="1000.6" y="1176.0" text-anchor="end">0</text>
<text x="1000.6" y="1058.3" text-anchor="end">4</text>
<text x="1000.6" y="940.6" text-anchor="end">8</text>
<text x="1000.6" y="822.9" text-anchor="end">12</text>
<text x="1000.6" y="705.2" text-anchor="end">16</text>
<text x="1082.7" y="1209.6" text-anchor="middle">50</text>
<text x="1213.8" y="1209.6" text-anchor="middle">100</text>
<text x="1344.9" y="1209.6" text-anchor="middle">150</text>
<text x="1475.9" y="1209.6" text-anchor="middle">200</text>
<text x="1607.0" y="1209.6" text-anchor="middle">250</text>
</g>
<text transform="translate(950.0,1012.6) rotate(-90)" font-family='"Liberation Sans", Arial, sans-serif' font-size="29.3">Intensity [arb.u]</text>
<text x="931.7" y="760.7" font-family='"Liberation Sans", Arial, sans-serif' font-size="29.3" text-anchor="start">x10<tspan dy="-12.1" font-size="20">3</tspan></text>
<text x="1209.2" y="1253.7" font-family='"Liberation Sans", Arial, sans-serif' font-size="29.2">Raman shift [cm<tspan dy="-12" font-size="20">-1</tspan><tspan dy="12">]</tspan></text>
<text x="1080.7" y="1112.3" font-family='"Liberation Sans", Arial, sans-serif' font-size="29.3">A</text>
<text x="1100.2" y="1100.5" font-family='"Liberation Sans", Arial, sans-serif' font-size="20">1</text>
<text x="1100.2" y="1120.6" font-family='"Liberation Sans", Arial, sans-serif' font-size="20">1g</text>
<text x="1118.8" y="1102.8" font-family='"Liberation Sans", Arial, sans-serif' font-size="29.3" text-anchor="start">P2</text>
<text x="1136.5" y="1058.8" font-family='"Liberation Sans", Arial, sans-serif' font-size="29.3" text-anchor="start">SPM</text>
<text x="1203.3" y="1078.5" font-family='"Liberation Sans", Arial, sans-serif' font-size="29.3">E</text>
<text x="1222.8" y="1066.7" font-family='"Liberation Sans", Arial, sans-serif' font-size="20">2</text>
<text x="1222.8" y="1086.8" font-family='"Liberation Sans", Arial, sans-serif' font-size="20">g</text>
<text x="1304.5" y="753.5" font-family='"Liberation Sans", Arial, sans-serif' font-size="29.3">A</text>
<text x="1324.0" y="741.7" font-family='"Liberation Sans", Arial, sans-serif' font-size="20">2</text>
<text x="1324.0" y="761.8" font-family='"Liberation Sans", Arial, sans-serif' font-size="20">1u</text>
<text x="1322.2" y="949.6" font-family='"Liberation Sans", Arial, sans-serif' font-size="29.3">A</text>
<text x="1341.7" y="937.8" font-family='"Liberation Sans", Arial, sans-serif' font-size="20">2</text>
<text x="1341.7" y="957.9" font-family='"Liberation Sans", Arial, sans-serif' font-size="20">1g</text>
<text x="1443.0" y="789.0" font-family='"Liberation Serif", "Times New Roman", serif' font-size="47.1" text-anchor="start">(d)</text>
<line x1="1092.2" y1="1116.5" x2="1097.6" y2="1132.5" stroke="#3a3a3a" stroke-width="1.1"/>
<path d="M1100.7,1141.5 L1094.1,1131.6 L1099.9,1129.6 Z" fill="#111"/>
<line x1="1137.2" y1="1102.6" x2="1144.2" y2="1126.3" stroke="#3a3a3a" stroke-width="1.1"/>
<path d="M1146.9,1135.4 L1140.7,1125.3 L1146.6,1123.5 Z" fill="#111"/>
<line x1="1172.4" y1="1074.0" x2="1191.8" y2="1119.4" stroke="#3a3a3a" stroke-width="1.1"/>
<path d="M1195.5,1128.1 L1188.1,1118.7 L1193.8,1116.3 Z" fill="#111"/>
</svg>
</body></html>
